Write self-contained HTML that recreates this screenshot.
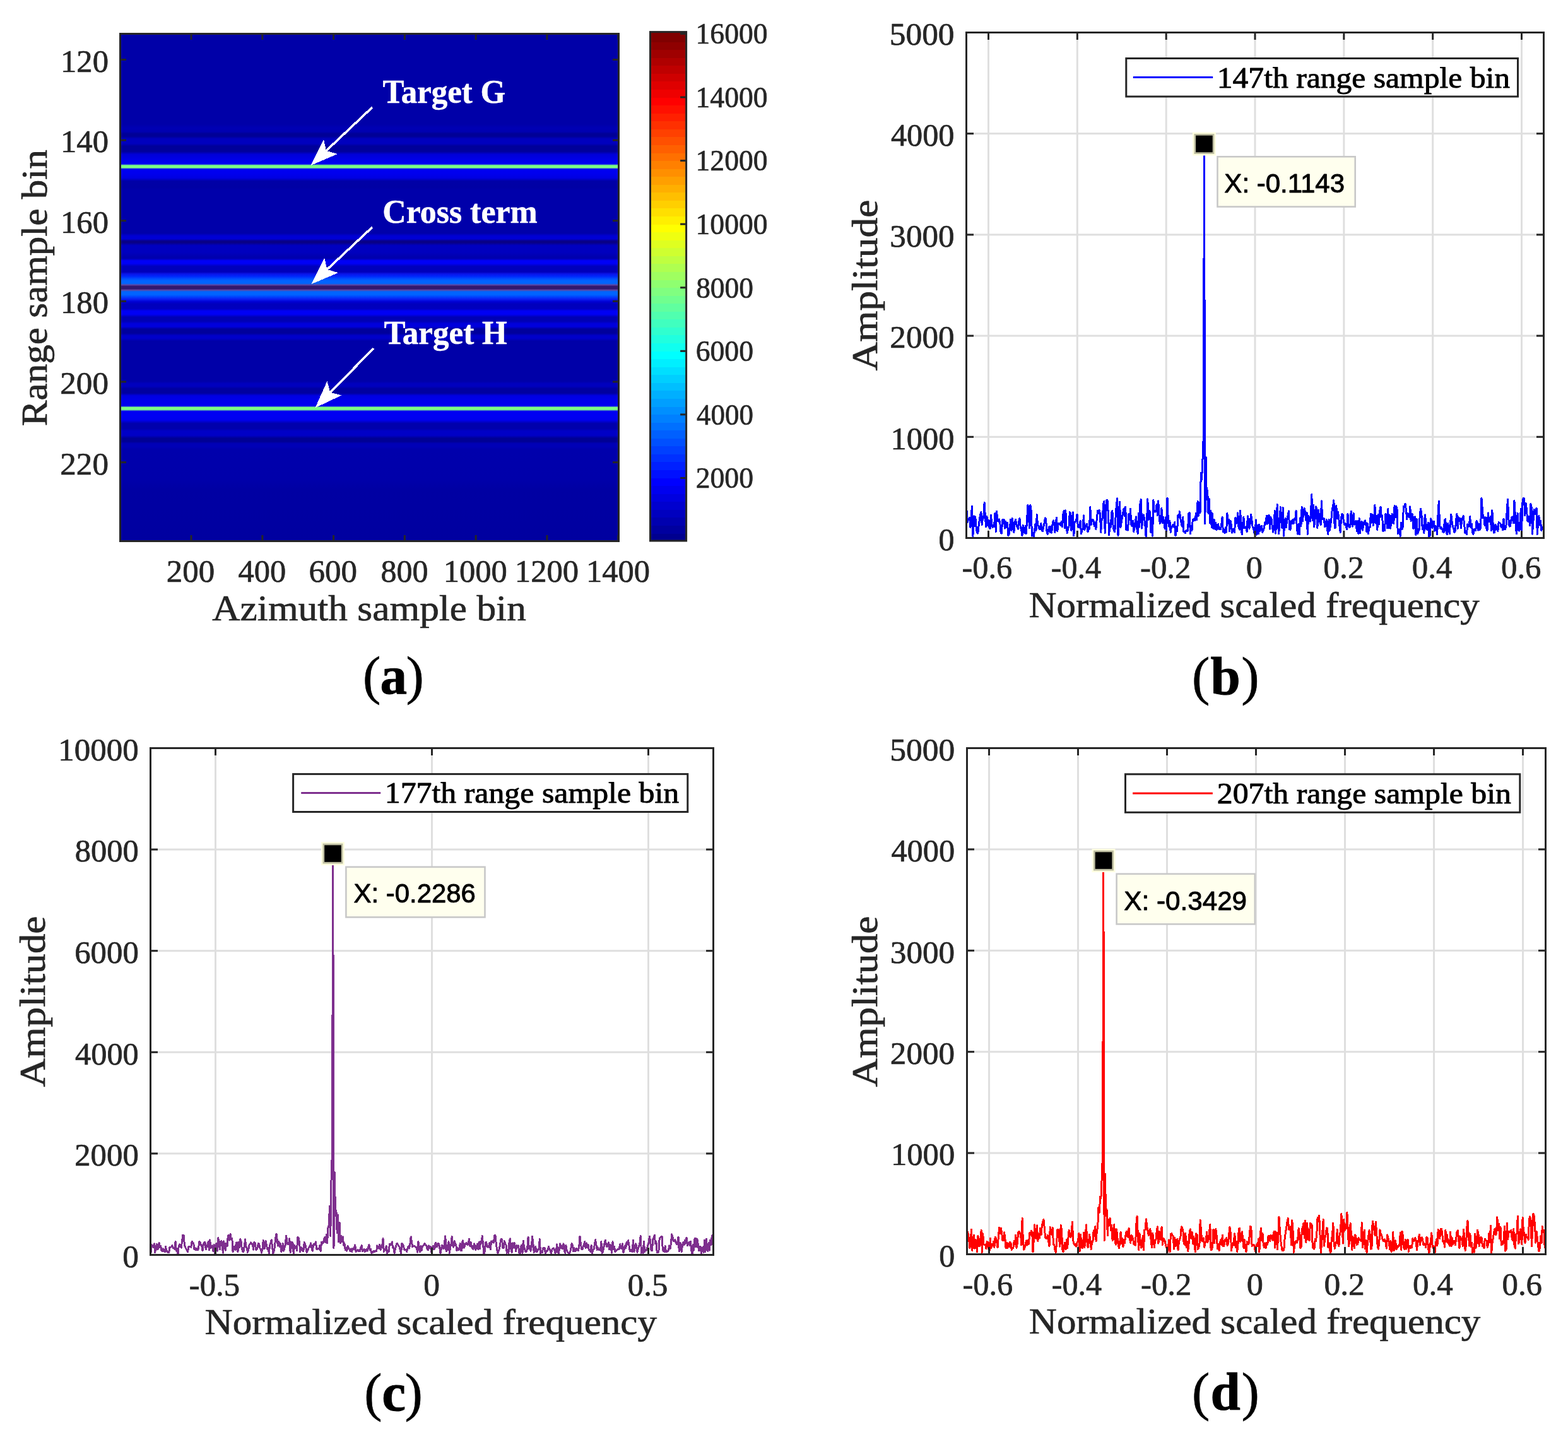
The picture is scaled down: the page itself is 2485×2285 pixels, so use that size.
<!DOCTYPE html>
<html><head><meta charset="utf-8"><title>Figure</title>
<style>html,body{margin:0;padding:0;background:#fff}svg{display:block}text{white-space:pre}</style></head>
<body><svg width="2485" height="2285" viewBox="0 0 2485 2285">
<defs><linearGradient id="hm" gradientUnits="userSpaceOnUse" x1="0" y1="53.5" x2="0" y2="857.5">
<stop offset="0.0000" stop-color="#0000a8"/>
<stop offset="0.1785" stop-color="#0000a8"/>
<stop offset="0.1859" stop-color="#0000b4"/>
<stop offset="0.1928" stop-color="#0000b0"/>
<stop offset="0.1971" stop-color="#000096"/>
<stop offset="0.2021" stop-color="#000096"/>
<stop offset="0.2071" stop-color="#0000be"/>
<stop offset="0.2164" stop-color="#0000be"/>
<stop offset="0.2214" stop-color="#00009a"/>
<stop offset="0.2320" stop-color="#00009a"/>
<stop offset="0.2376" stop-color="#0000d7"/>
<stop offset="0.2469" stop-color="#0000e6"/>
<stop offset="0.2561" stop-color="#0000f2"/>
<stop offset="0.2572" stop-color="#1e28e1"/>
<stop offset="0.2583" stop-color="#4b96b4"/>
<stop offset="0.2595" stop-color="#7cff82"/>
<stop offset="0.2639" stop-color="#7cff82"/>
<stop offset="0.2650" stop-color="#4b96b4"/>
<stop offset="0.2662" stop-color="#1e28e1"/>
<stop offset="0.2673" stop-color="#0000f2"/>
<stop offset="0.2755" stop-color="#0000ee"/>
<stop offset="0.2842" stop-color="#0000e2"/>
<stop offset="0.2904" stop-color="#0000a6"/>
<stop offset="0.3029" stop-color="#0000a4"/>
<stop offset="0.3078" stop-color="#0000aa"/>
<stop offset="0.3930" stop-color="#0000aa"/>
<stop offset="0.3986" stop-color="#0000d4"/>
<stop offset="0.4042" stop-color="#0000d4"/>
<stop offset="0.4086" stop-color="#080086"/>
<stop offset="0.4117" stop-color="#080086"/>
<stop offset="0.4173" stop-color="#0000c0"/>
<stop offset="0.4310" stop-color="#0000be"/>
<stop offset="0.4409" stop-color="#0000ac"/>
<stop offset="0.4434" stop-color="#0000b4"/>
<stop offset="0.4471" stop-color="#0000f6"/>
<stop offset="0.4527" stop-color="#0000f6"/>
<stop offset="0.4583" stop-color="#0000bc"/>
<stop offset="0.4695" stop-color="#0000ba"/>
<stop offset="0.4733" stop-color="#0a14e8"/>
<stop offset="0.4782" stop-color="#0028fc"/>
<stop offset="0.4832" stop-color="#0050ff"/>
<stop offset="0.4869" stop-color="#0064ff"/>
<stop offset="0.4919" stop-color="#0064ff"/>
<stop offset="0.4935" stop-color="#285ad2"/>
<stop offset="0.4951" stop-color="#6044a5"/>
<stop offset="0.4976" stop-color="#32186e"/>
<stop offset="0.5026" stop-color="#32186e"/>
<stop offset="0.5051" stop-color="#6044a5"/>
<stop offset="0.5068" stop-color="#285ad2"/>
<stop offset="0.5085" stop-color="#0064ff"/>
<stop offset="0.5143" stop-color="#0064ff"/>
<stop offset="0.5180" stop-color="#0046ff"/>
<stop offset="0.5230" stop-color="#0a1ef2"/>
<stop offset="0.5280" stop-color="#0000d4"/>
<stop offset="0.5330" stop-color="#0000bc"/>
<stop offset="0.5417" stop-color="#0000be"/>
<stop offset="0.5466" stop-color="#0000f4"/>
<stop offset="0.5529" stop-color="#0000f4"/>
<stop offset="0.5585" stop-color="#0000b4"/>
<stop offset="0.5665" stop-color="#0000b4"/>
<stop offset="0.5715" stop-color="#0000dc"/>
<stop offset="0.5771" stop-color="#0000dc"/>
<stop offset="0.5821" stop-color="#00009c"/>
<stop offset="0.5902" stop-color="#00009c"/>
<stop offset="0.5951" stop-color="#0000ca"/>
<stop offset="0.6001" stop-color="#0000ca"/>
<stop offset="0.6057" stop-color="#0000a8"/>
<stop offset="0.6847" stop-color="#0000a8"/>
<stop offset="0.6897" stop-color="#0000be"/>
<stop offset="0.6947" stop-color="#0000be"/>
<stop offset="0.6996" stop-color="#0000a0"/>
<stop offset="0.7083" stop-color="#0000a0"/>
<stop offset="0.7133" stop-color="#0000e2"/>
<stop offset="0.7233" stop-color="#0000ec"/>
<stop offset="0.7330" stop-color="#0000f0"/>
<stop offset="0.7341" stop-color="#1e28e1"/>
<stop offset="0.7352" stop-color="#4b96b4"/>
<stop offset="0.7363" stop-color="#7cff82"/>
<stop offset="0.7409" stop-color="#7cff82"/>
<stop offset="0.7420" stop-color="#4b96b4"/>
<stop offset="0.7432" stop-color="#1e28e1"/>
<stop offset="0.7444" stop-color="#0000f2"/>
<stop offset="0.7544" stop-color="#0000f2"/>
<stop offset="0.7618" stop-color="#0000ec"/>
<stop offset="0.7680" stop-color="#0000ac"/>
<stop offset="0.7780" stop-color="#0000ac"/>
<stop offset="0.7830" stop-color="#0000c6"/>
<stop offset="0.7917" stop-color="#0000c6"/>
<stop offset="0.7973" stop-color="#000094"/>
<stop offset="0.8035" stop-color="#000094"/>
<stop offset="0.8078" stop-color="#0000b6"/>
<stop offset="0.8141" stop-color="#0000b6"/>
<stop offset="0.8190" stop-color="#0000ac"/>
<stop offset="0.8787" stop-color="#0000aa"/>
<stop offset="0.8974" stop-color="#0000a3"/>
<stop offset="1.0000" stop-color="#0000a0"/>
</linearGradient>
<clipPath id="clipb"><rect x="1530" y="51.5" width="918" height="802.5"/></clipPath>
<clipPath id="clipc"><rect x="237" y="1185.5" width="895" height="804.5"/></clipPath>
<clipPath id="clipd"><rect x="1531" y="1185.5" width="920" height="803.5"/></clipPath></defs>
<rect width="2485" height="2285" fill="#fff"/>
<rect x="190.5" y="53.5" width="790.0" height="804.0" fill="url(#hm)"/>
<rect x="301.5" y="53.5" width="3" height="9.5" fill="#262626"/>
<rect x="301.5" y="848" width="3" height="9.5" fill="#262626"/>
<rect x="414.29" y="53.5" width="3" height="9.5" fill="#262626"/>
<rect x="414.29" y="848" width="3" height="9.5" fill="#262626"/>
<rect x="527.08" y="53.5" width="3" height="9.5" fill="#262626"/>
<rect x="527.08" y="848" width="3" height="9.5" fill="#262626"/>
<rect x="639.86" y="53.5" width="3" height="9.5" fill="#262626"/>
<rect x="639.86" y="848" width="3" height="9.5" fill="#262626"/>
<rect x="752.65" y="53.5" width="3" height="9.5" fill="#262626"/>
<rect x="752.65" y="848" width="3" height="9.5" fill="#262626"/>
<rect x="865.43" y="53.5" width="3" height="9.5" fill="#262626"/>
<rect x="865.43" y="848" width="3" height="9.5" fill="#262626"/>
<rect x="978.22" y="53.5" width="3" height="9.5" fill="#262626"/>
<rect x="978.22" y="848" width="3" height="9.5" fill="#262626"/>
<rect x="190.5" y="93" width="9.5" height="3" fill="#262626"/>
<rect x="971" y="93" width="9.5" height="3" fill="#262626"/>
<rect x="190.5" y="220.62" width="9.5" height="3" fill="#262626"/>
<rect x="971" y="220.62" width="9.5" height="3" fill="#262626"/>
<rect x="190.5" y="348.24" width="9.5" height="3" fill="#262626"/>
<rect x="971" y="348.24" width="9.5" height="3" fill="#262626"/>
<rect x="190.5" y="475.86" width="9.5" height="3" fill="#262626"/>
<rect x="971" y="475.86" width="9.5" height="3" fill="#262626"/>
<rect x="190.5" y="603.48" width="9.5" height="3" fill="#262626"/>
<rect x="971" y="603.48" width="9.5" height="3" fill="#262626"/>
<rect x="190.5" y="731.1" width="9.5" height="3" fill="#262626"/>
<rect x="971" y="731.1" width="9.5" height="3" fill="#262626"/>
<rect x="190.5" y="53.5" width="790" height="804" fill="none" stroke="#262626" stroke-width="3"/>
<text transform="translate(263.86,921.7) scale(0.9880,1)" font-family='"Liberation Serif", serif' font-size="51.6" fill="#262626" stroke="#262626" stroke-width="0.7" stroke-linejoin="round">200</text>
<text transform="translate(377.39,921.7) scale(0.9796,1)" font-family='"Liberation Serif", serif' font-size="51.6" fill="#262626" stroke="#262626" stroke-width="0.7" stroke-linejoin="round">400</text>
<text transform="translate(489.46,921.7) scale(0.9880,1)" font-family='"Liberation Serif", serif' font-size="51.6" fill="#262626" stroke="#262626" stroke-width="0.7" stroke-linejoin="round">600</text>
<text transform="translate(603.5,921.7) scale(0.9703,1)" font-family='"Liberation Serif", serif' font-size="51.6" fill="#262626" stroke="#262626" stroke-width="0.7" stroke-linejoin="round">800</text>
<text transform="translate(702.66,921.7) scale(0.9792,1)" font-family='"Liberation Serif", serif' font-size="51.6" fill="#262626" stroke="#262626" stroke-width="0.7" stroke-linejoin="round">1000</text>
<text transform="translate(815.84,921.7) scale(0.9823,1)" font-family='"Liberation Serif", serif' font-size="51.6" fill="#262626" stroke="#262626" stroke-width="0.7" stroke-linejoin="round">1200</text>
<text transform="translate(929.06,921.7) scale(0.9792,1)" font-family='"Liberation Serif", serif' font-size="51.6" fill="#262626" stroke="#262626" stroke-width="0.7" stroke-linejoin="round">1400</text>
<text transform="translate(95.94,113.5) scale(0.9829,1)" font-family='"Liberation Serif", serif' font-size="51.6" fill="#262626" stroke="#262626" stroke-width="0.7" stroke-linejoin="round">120</text>
<text transform="translate(95.94,241.12) scale(0.9829,1)" font-family='"Liberation Serif", serif' font-size="51.6" fill="#262626" stroke="#262626" stroke-width="0.7" stroke-linejoin="round">140</text>
<text transform="translate(95.94,368.74) scale(0.9829,1)" font-family='"Liberation Serif", serif' font-size="51.6" fill="#262626" stroke="#262626" stroke-width="0.7" stroke-linejoin="round">160</text>
<text transform="translate(95.94,496.36) scale(0.9829,1)" font-family='"Liberation Serif", serif' font-size="51.6" fill="#262626" stroke="#262626" stroke-width="0.7" stroke-linejoin="round">180</text>
<text transform="translate(95.25,623.98) scale(0.9920,1)" font-family='"Liberation Serif", serif' font-size="51.6" fill="#262626" stroke="#262626" stroke-width="0.7" stroke-linejoin="round">200</text>
<text transform="translate(95.25,751.6) scale(0.9920,1)" font-family='"Liberation Serif", serif' font-size="51.6" fill="#262626" stroke="#262626" stroke-width="0.7" stroke-linejoin="round">220</text>
<text transform="translate(336.3,983.1) scale(1.0860,1)" font-family='"Liberation Serif", serif' font-size="56.5" fill="#262626" stroke="#262626" stroke-width="0.7" stroke-linejoin="round">Azimuth sample bin</text>
<text transform="translate(73.8,675.22) rotate(-90) scale(1.0823,1)" font-family='"Liberation Serif", serif' font-size="56.5" fill="#262626" stroke="#262626" stroke-width="0.7" stroke-linejoin="round">Range sample bin</text>
<g shape-rendering="crispEdges"><line x1="590" y1="170" x2="517.03" y2="238.86" stroke="#fff" stroke-width="3.6"/>
<polygon points="492.3,262.2 512.96,220.71 517.03,238.86 534.92,243.98" fill="#fff"/></g>
<g shape-rendering="crispEdges"><line x1="590" y1="360" x2="518.34" y2="426.98" stroke="#fff" stroke-width="3.6"/>
<polygon points="493.5,450.2 514.35,408.81 518.34,426.98 536.2,432.18" fill="#fff"/></g>
<g shape-rendering="crispEdges"><line x1="592" y1="552" x2="523.32" y2="621.94" stroke="#fff" stroke-width="3.6"/>
<polygon points="499.5,646.2 518.56,603.95 523.32,621.94 541.39,626.37" fill="#fff"/></g>
<text transform="translate(606.39,162.8) scale(0.9705,1)" font-family='"Liberation Serif", serif' font-size="52.5" fill="#fff" font-weight="bold" stroke="#fff" stroke-width="0.5" stroke-linejoin="round">Target G</text>
<text transform="translate(606.22,352.8) scale(0.9888,1)" font-family='"Liberation Serif", serif' font-size="52.5" fill="#fff" font-weight="bold" stroke="#fff" stroke-width="0.5" stroke-linejoin="round">Cross term</text>
<text transform="translate(608.39,544.6) scale(0.9729,1)" font-family='"Liberation Serif", serif' font-size="52.5" fill="#fff" font-weight="bold" stroke="#fff" stroke-width="0.5" stroke-linejoin="round">Target H</text>
<g shape-rendering="crispEdges">
<rect x="1030.5" y="844.94" width="57.1" height="13.16" fill="#00008f"/>
<rect x="1030.5" y="832.38" width="57.1" height="13.16" fill="#00009f"/>
<rect x="1030.5" y="819.81" width="57.1" height="13.16" fill="#0000af"/>
<rect x="1030.5" y="807.25" width="57.1" height="13.16" fill="#0000bf"/>
<rect x="1030.5" y="794.69" width="57.1" height="13.16" fill="#0000cf"/>
<rect x="1030.5" y="782.12" width="57.1" height="13.16" fill="#0000df"/>
<rect x="1030.5" y="769.56" width="57.1" height="13.16" fill="#0000ef"/>
<rect x="1030.5" y="757" width="57.1" height="13.16" fill="#0000ff"/>
<rect x="1030.5" y="744.44" width="57.1" height="13.16" fill="#0010ff"/>
<rect x="1030.5" y="731.88" width="57.1" height="13.16" fill="#0020ff"/>
<rect x="1030.5" y="719.31" width="57.1" height="13.16" fill="#0030ff"/>
<rect x="1030.5" y="706.75" width="57.1" height="13.16" fill="#0040ff"/>
<rect x="1030.5" y="694.19" width="57.1" height="13.16" fill="#0050ff"/>
<rect x="1030.5" y="681.62" width="57.1" height="13.16" fill="#0060ff"/>
<rect x="1030.5" y="669.06" width="57.1" height="13.16" fill="#0070ff"/>
<rect x="1030.5" y="656.5" width="57.1" height="13.16" fill="#0080ff"/>
<rect x="1030.5" y="643.94" width="57.1" height="13.16" fill="#008fff"/>
<rect x="1030.5" y="631.38" width="57.1" height="13.16" fill="#009fff"/>
<rect x="1030.5" y="618.81" width="57.1" height="13.16" fill="#00afff"/>
<rect x="1030.5" y="606.25" width="57.1" height="13.16" fill="#00bfff"/>
<rect x="1030.5" y="593.69" width="57.1" height="13.16" fill="#00cfff"/>
<rect x="1030.5" y="581.12" width="57.1" height="13.16" fill="#00dfff"/>
<rect x="1030.5" y="568.56" width="57.1" height="13.16" fill="#00efff"/>
<rect x="1030.5" y="556" width="57.1" height="13.16" fill="#00ffff"/>
<rect x="1030.5" y="543.44" width="57.1" height="13.16" fill="#10ffef"/>
<rect x="1030.5" y="530.88" width="57.1" height="13.16" fill="#20ffdf"/>
<rect x="1030.5" y="518.31" width="57.1" height="13.16" fill="#30ffcf"/>
<rect x="1030.5" y="505.75" width="57.1" height="13.16" fill="#40ffbf"/>
<rect x="1030.5" y="493.19" width="57.1" height="13.16" fill="#50ffaf"/>
<rect x="1030.5" y="480.62" width="57.1" height="13.16" fill="#60ff9f"/>
<rect x="1030.5" y="468.06" width="57.1" height="13.16" fill="#70ff8f"/>
<rect x="1030.5" y="455.5" width="57.1" height="13.16" fill="#80ff80"/>
<rect x="1030.5" y="442.94" width="57.1" height="13.16" fill="#8fff70"/>
<rect x="1030.5" y="430.38" width="57.1" height="13.16" fill="#9fff60"/>
<rect x="1030.5" y="417.81" width="57.1" height="13.16" fill="#afff50"/>
<rect x="1030.5" y="405.25" width="57.1" height="13.16" fill="#bfff40"/>
<rect x="1030.5" y="392.69" width="57.1" height="13.16" fill="#cfff30"/>
<rect x="1030.5" y="380.12" width="57.1" height="13.16" fill="#dfff20"/>
<rect x="1030.5" y="367.56" width="57.1" height="13.16" fill="#efff10"/>
<rect x="1030.5" y="355" width="57.1" height="13.16" fill="#ffff00"/>
<rect x="1030.5" y="342.44" width="57.1" height="13.16" fill="#ffef00"/>
<rect x="1030.5" y="329.88" width="57.1" height="13.16" fill="#ffdf00"/>
<rect x="1030.5" y="317.31" width="57.1" height="13.16" fill="#ffcf00"/>
<rect x="1030.5" y="304.75" width="57.1" height="13.16" fill="#ffbf00"/>
<rect x="1030.5" y="292.19" width="57.1" height="13.16" fill="#ffaf00"/>
<rect x="1030.5" y="279.62" width="57.1" height="13.16" fill="#ff9f00"/>
<rect x="1030.5" y="267.06" width="57.1" height="13.16" fill="#ff8f00"/>
<rect x="1030.5" y="254.5" width="57.1" height="13.16" fill="#ff8000"/>
<rect x="1030.5" y="241.94" width="57.1" height="13.16" fill="#ff7000"/>
<rect x="1030.5" y="229.38" width="57.1" height="13.16" fill="#ff6000"/>
<rect x="1030.5" y="216.81" width="57.1" height="13.16" fill="#ff5000"/>
<rect x="1030.5" y="204.25" width="57.1" height="13.16" fill="#ff4000"/>
<rect x="1030.5" y="191.69" width="57.1" height="13.16" fill="#ff3000"/>
<rect x="1030.5" y="179.12" width="57.1" height="13.16" fill="#ff2000"/>
<rect x="1030.5" y="166.56" width="57.1" height="13.16" fill="#ff1000"/>
<rect x="1030.5" y="154" width="57.1" height="13.16" fill="#ff0000"/>
<rect x="1030.5" y="141.44" width="57.1" height="13.16" fill="#ef0000"/>
<rect x="1030.5" y="128.88" width="57.1" height="13.16" fill="#df0000"/>
<rect x="1030.5" y="116.31" width="57.1" height="13.16" fill="#cf0000"/>
<rect x="1030.5" y="103.75" width="57.1" height="13.16" fill="#bf0000"/>
<rect x="1030.5" y="91.19" width="57.1" height="13.16" fill="#af0000"/>
<rect x="1030.5" y="78.62" width="57.1" height="13.16" fill="#9f0000"/>
<rect x="1030.5" y="66.06" width="57.1" height="13.16" fill="#8f0000"/>
<rect x="1030.5" y="50.6" width="57.1" height="16.06" fill="#800000"/>
</g>
<rect x="1078.1" y="755.9" width="9.5" height="3" fill="#262626"/>
<text transform="translate(1102.67,773.2) scale(0.9671,1)" font-family='"Liberation Serif", serif' font-size="47.2" fill="#262626" stroke="#262626" stroke-width="0.7" stroke-linejoin="round">2000</text>
<rect x="1078.1" y="655.34" width="9.5" height="3" fill="#262626"/>
<text transform="translate(1104.05,672.64) scale(0.9523,1)" font-family='"Liberation Serif", serif' font-size="47.2" fill="#262626" stroke="#262626" stroke-width="0.7" stroke-linejoin="round">4000</text>
<rect x="1078.1" y="554.78" width="9.5" height="3" fill="#262626"/>
<text transform="translate(1102.67,572.08) scale(0.9671,1)" font-family='"Liberation Serif", serif' font-size="47.2" fill="#262626" stroke="#262626" stroke-width="0.7" stroke-linejoin="round">6000</text>
<rect x="1078.1" y="454.22" width="9.5" height="3" fill="#262626"/>
<text transform="translate(1103.14,471.52) scale(0.9621,1)" font-family='"Liberation Serif", serif' font-size="47.2" fill="#262626" stroke="#262626" stroke-width="0.7" stroke-linejoin="round">8000</text>
<rect x="1078.1" y="353.66" width="9.5" height="3" fill="#262626"/>
<text transform="translate(1102.55,370.96) scale(0.9662,1)" font-family='"Liberation Serif", serif' font-size="47.2" fill="#262626" stroke="#262626" stroke-width="0.7" stroke-linejoin="round">10000</text>
<rect x="1078.1" y="253.1" width="9.5" height="3" fill="#262626"/>
<text transform="translate(1102.55,270.4) scale(0.9662,1)" font-family='"Liberation Serif", serif' font-size="47.2" fill="#262626" stroke="#262626" stroke-width="0.7" stroke-linejoin="round">12000</text>
<rect x="1078.1" y="152.54" width="9.5" height="3" fill="#262626"/>
<text transform="translate(1102.55,169.84) scale(0.9662,1)" font-family='"Liberation Serif", serif' font-size="47.2" fill="#262626" stroke="#262626" stroke-width="0.7" stroke-linejoin="round">14000</text>
<rect x="1078.1" y="51.98" width="9.5" height="3" fill="#262626"/>
<text transform="translate(1102.55,69.28) scale(0.9662,1)" font-family='"Liberation Serif", serif' font-size="47.2" fill="#262626" stroke="#262626" stroke-width="0.7" stroke-linejoin="round">16000</text>
<rect x="1030.5" y="50.6" width="57.1" height="806.4" fill="none" stroke="#262626" stroke-width="3"/>
<rect x="1531.5" y="51.5" width="915" height="801" fill="#fff"/>
<rect x="1565" y="51.5" width="3" height="801" fill="#dfdfdf"/>
<rect x="1705.83" y="51.5" width="3" height="801" fill="#dfdfdf"/>
<rect x="1846.67" y="51.5" width="3" height="801" fill="#dfdfdf"/>
<rect x="1987.5" y="51.5" width="3" height="801" fill="#dfdfdf"/>
<rect x="2128.34" y="51.5" width="3" height="801" fill="#dfdfdf"/>
<rect x="2269.17" y="51.5" width="3" height="801" fill="#dfdfdf"/>
<rect x="2410" y="51.5" width="3" height="801" fill="#dfdfdf"/>
<rect x="1531.5" y="690.8" width="915" height="3" fill="#dfdfdf"/>
<rect x="1531.5" y="530.6" width="915" height="3" fill="#dfdfdf"/>
<rect x="1531.5" y="370.4" width="915" height="3" fill="#dfdfdf"/>
<rect x="1531.5" y="210.2" width="915" height="3" fill="#dfdfdf"/>
<path d="M1530.2,785.8 L1531.5,797.2 L1532.8,827.9 L1534.1,824.7 L1535.4,823.2 L1536.7,820.1 L1538.0,835.6 L1539.3,815.5 L1540.6,802.1 L1541.9,849.4 L1543.2,817.9 L1544.5,833.2 L1545.8,818.8 L1547.1,835.8 L1548.4,844.1 L1549.7,845.2 L1551.0,834.4 L1552.3,823.5 L1553.6,815.0 L1554.9,811.7 L1556.2,831.4 L1557.5,821.4 L1558.8,821.1 L1560.1,796.2 L1561.4,819.0 L1562.7,835.0 L1564.0,818.6 L1565.3,832.8 L1566.6,824.3 L1567.9,835.9 L1569.2,837.4 L1570.5,816.2 L1571.8,830.0 L1573.1,835.5 L1574.4,834.6 L1575.7,831.5 L1577.0,812.9 L1578.3,842.3 L1579.6,810.4 L1580.9,825.3 L1582.2,826.0 L1583.5,822.9 L1584.8,828.3 L1586.1,844.2 L1587.4,845.1 L1588.7,823.6 L1590.0,825.3 L1591.3,823.6 L1592.6,837.2 L1593.9,826.1 L1595.2,835.7 L1596.5,828.6 L1597.8,848.5 L1599.1,846.4 L1600.4,836.0 L1601.7,823.3 L1603.0,840.5 L1604.3,821.7 L1605.6,832.1 L1606.9,843.3 L1608.2,829.7 L1609.5,823.1 L1610.8,831.1 L1612.1,834.7 L1613.4,838.2 L1614.7,826.0 L1616.0,821.5 L1617.3,836.7 L1618.6,838.1 L1619.9,849.1 L1621.2,832.2 L1622.5,842.1 L1623.8,844.6 L1625.1,833.8 L1626.4,845.3 L1627.7,821.3 L1629.0,800.5 L1630.3,817.3 L1631.6,836.9 L1632.9,800.7 L1634.2,809.4 L1635.5,849.1 L1636.8,844.6 L1638.1,850.2 L1639.4,842.9 L1640.7,830.9 L1642.0,840.8 L1643.3,815.7 L1644.6,832.7 L1645.9,833.1 L1647.2,838.6 L1648.5,838.6 L1649.8,829.3 L1651.1,840.5 L1652.4,841.7 L1653.7,835.1 L1655.0,829.6 L1656.3,820.8 L1657.6,822.8 L1658.9,841.1 L1660.2,846.3 L1661.5,841.2 L1662.8,834.2 L1664.1,843.5 L1665.4,834.2 L1666.7,844.1 L1668.0,831.4 L1669.3,825.0 L1670.6,828.3 L1671.9,843.3 L1673.2,826.7 L1674.5,820.3 L1675.8,841.3 L1677.1,831.5 L1678.4,829.1 L1679.7,830.9 L1681.0,832.6 L1682.3,826.2 L1683.6,835.0 L1684.9,815.1 L1686.2,809.7 L1687.5,836.8 L1688.8,808.8 L1690.1,835.7 L1691.4,844.4 L1692.7,837.9 L1694.0,834.1 L1695.3,811.6 L1696.6,813.0 L1697.9,841.1 L1699.2,824.1 L1700.5,811.9 L1701.8,848.9 L1703.1,827.5 L1704.4,826.4 L1705.7,824.7 L1707.0,815.1 L1708.3,834.8 L1709.6,835.6 L1710.9,831.8 L1712.2,825.7 L1713.5,846.0 L1714.8,840.1 L1716.1,837.2 L1717.4,816.9 L1718.7,839.6 L1720.0,835.3 L1721.3,833.0 L1722.6,830.1 L1723.9,842.9 L1725.2,839.6 L1726.5,838.0 L1727.8,803.4 L1729.1,831.3 L1730.4,825.0 L1731.7,823.1 L1733.0,825.0 L1734.3,833.9 L1735.6,828.5 L1736.9,838.3 L1738.2,823.3 L1739.5,809.6 L1740.8,813.5 L1742.1,808.7 L1743.4,814.1 L1744.7,843.5 L1746.0,824.5 L1747.3,820.4 L1748.6,798.9 L1749.9,794.1 L1751.2,844.4 L1752.5,822.3 L1753.8,792.4 L1755.1,792.9 L1756.4,813.9 L1757.7,848.0 L1759.0,828.9 L1760.3,835.4 L1761.6,812.7 L1762.9,809.5 L1764.2,835.3 L1765.5,841.1 L1766.8,842.9 L1768.1,818.4 L1769.4,799.1 L1770.7,789.9 L1772.0,848.4 L1773.3,810.8 L1774.6,795.4 L1775.9,835.4 L1777.2,828.0 L1778.5,819.0 L1779.8,812.7 L1781.1,805.9 L1782.4,817.7 L1783.7,803.3 L1785.0,839.7 L1786.3,832.0 L1787.6,840.1 L1788.9,814.1 L1790.2,823.9 L1791.5,806.4 L1792.8,831.1 L1794.1,833.8 L1795.4,825.3 L1796.7,842.5 L1798.0,836.5 L1799.3,825.9 L1800.6,818.8 L1801.9,838.0 L1803.2,845.3 L1804.5,813.6 L1805.8,835.2 L1807.1,795.7 L1808.4,791.6 L1809.7,837.1 L1811.0,819.6 L1812.3,815.9 L1813.6,821.7 L1814.9,832.1 L1816.2,851.6 L1817.5,827.2 L1818.8,790.9 L1820.1,823.9 L1821.4,809.2 L1822.7,811.4 L1824.0,843.5 L1825.3,820.2 L1826.6,849.1 L1827.9,792.7 L1829.2,810.2 L1830.5,811.2 L1831.8,810.8 L1833.1,799.3 L1834.4,816.4 L1835.7,793.9 L1837.0,815.6 L1838.3,829.5 L1839.6,826.6 L1840.9,805.1 L1842.2,828.4 L1843.5,819.3 L1844.8,828.0 L1846.1,838.1 L1847.4,820.0 L1848.7,841.7 L1850.0,789.0 L1851.3,824.3 L1852.6,834.1 L1853.9,825.4 L1855.2,843.3 L1856.5,834.2 L1857.8,834.8 L1859.1,831.0 L1860.4,835.0 L1861.7,827.5 L1863.0,848.6 L1864.3,838.9 L1865.6,841.6 L1866.9,816.2 L1868.2,819.9 L1869.5,810.7 L1870.8,821.6 L1872.1,828.1 L1873.4,834.2 L1874.7,819.7 L1876.0,842.6 L1877.3,842.9 L1878.6,844.5 L1879.9,840.4 L1881.2,841.9 L1882.5,841.1 L1883.8,813.4 L1885.1,812.6 L1886.4,845.6 L1887.7,833.7 L1889.0,840.2 L1890.3,823.0 L1891.6,824.4 L1892.9,822.0 L1894.2,824.7 L1895.5,813.2 L1896.8,823.4 L1898.1,794.3 L1899.4,817.4 L1900.7,796.9 L1902.0,812.8 L1903.3,749.7 L1904.6,759.9 L1905.9,730.7 L1907.2,694.2 L1908.5,243.7 L1909.8,829.9 L1911.1,724.7 L1912.4,791.6 L1913.7,777.0 L1915.0,813.4 L1916.3,790.8 L1917.6,828.9 L1918.9,809.1 L1920.2,835.9 L1921.5,813.8 L1922.8,837.3 L1924.1,823.6 L1925.4,838.1 L1926.7,828.5 L1928.0,839.7 L1929.3,831.6 L1930.6,830.6 L1931.9,838.7 L1933.2,836.0 L1934.5,838.5 L1935.8,830.6 L1937.1,819.4 L1938.4,842.5 L1939.7,840.9 L1941.0,844.6 L1942.3,836.6 L1943.6,843.2 L1944.9,813.6 L1946.2,826.3 L1947.5,823.1 L1948.8,841.9 L1950.1,825.5 L1951.4,832.7 L1952.7,844.1 L1954.0,838.5 L1955.3,842.0 L1956.6,843.5 L1957.9,820.7 L1959.2,829.7 L1960.5,825.0 L1961.8,812.9 L1963.1,835.9 L1964.4,839.0 L1965.7,809.3 L1967.0,837.5 L1968.3,846.8 L1969.6,830.8 L1970.9,819.7 L1972.2,836.8 L1973.5,835.9 L1974.8,834.8 L1976.1,842.7 L1977.4,817.8 L1978.7,824.5 L1980.0,837.3 L1981.3,828.6 L1982.6,815.4 L1983.9,824.2 L1985.2,835.8 L1986.5,836.5 L1987.8,844.0 L1989.1,846.8 L1990.4,823.9 L1991.7,847.1 L1993.0,832.3 L1994.3,845.9 L1995.6,831.5 L1996.9,841.6 L1998.2,834.2 L1999.5,833.6 L2000.8,843.3 L2002.1,840.6 L2003.4,837.0 L2004.7,827.7 L2006.0,830.8 L2007.3,817.1 L2008.6,830.3 L2009.9,818.4 L2011.2,816.2 L2012.5,838.2 L2013.8,819.8 L2015.1,822.6 L2016.4,835.6 L2017.7,843.1 L2019.0,835.2 L2020.3,809.4 L2021.6,845.2 L2022.9,828.6 L2024.2,799.7 L2025.5,831.9 L2026.8,845.9 L2028.1,821.8 L2029.4,803.7 L2030.7,826.9 L2032.0,836.3 L2033.3,804.4 L2034.6,849.1 L2035.9,823.9 L2037.2,821.8 L2038.5,835.7 L2039.8,821.7 L2041.1,816.8 L2042.4,810.0 L2043.7,838.7 L2045.0,839.3 L2046.3,825.9 L2047.6,829.9 L2048.9,823.7 L2050.2,829.7 L2051.5,822.4 L2052.8,822.0 L2054.1,809.3 L2055.4,838.7 L2056.7,846.2 L2058.0,830.5 L2059.3,846.9 L2060.6,821.0 L2061.9,833.5 L2063.2,803.2 L2064.5,825.6 L2065.8,810.9 L2067.1,805.7 L2068.4,810.7 L2069.7,824.4 L2071.0,812.0 L2072.3,846.6 L2073.6,817.1 L2074.9,823.7 L2076.2,826.1 L2077.5,812.6 L2078.8,783.6 L2080.1,824.4 L2081.4,800.1 L2082.7,834.8 L2084.0,823.1 L2085.3,802.8 L2086.6,805.4 L2087.9,836.5 L2089.2,808.0 L2090.5,826.4 L2091.8,814.2 L2093.1,831.7 L2094.4,793.8 L2095.7,822.4 L2097.0,822.4 L2098.3,821.7 L2099.6,834.8 L2100.9,832.9 L2102.2,823.8 L2103.5,838.4 L2104.8,846.4 L2106.1,823.1 L2107.4,840.3 L2108.7,830.7 L2110.0,821.5 L2111.3,807.2 L2112.6,802.6 L2113.9,792.9 L2115.2,836.6 L2116.5,836.4 L2117.8,801.4 L2119.1,821.5 L2120.4,811.1 L2121.7,820.5 L2123.0,834.2 L2124.3,843.6 L2125.6,819.3 L2126.9,814.3 L2128.2,815.8 L2129.5,827.6 L2130.8,831.7 L2132.1,829.3 L2133.4,834.1 L2134.7,838.8 L2136.0,814.4 L2137.3,834.1 L2138.6,835.7 L2139.9,834.4 L2141.2,810.0 L2142.5,826.2 L2143.8,834.1 L2145.1,813.3 L2146.4,831.2 L2147.7,827.4 L2149.0,825.9 L2150.3,841.8 L2151.6,825.8 L2152.9,845.8 L2154.2,821.1 L2155.5,844.5 L2156.8,829.4 L2158.1,826.0 L2159.4,840.2 L2160.7,833.7 L2162.0,827.0 L2163.3,825.0 L2164.6,828.5 L2165.9,842.3 L2167.2,829.5 L2168.5,845.6 L2169.8,835.5 L2171.1,835.5 L2172.4,814.3 L2173.7,828.2 L2175.0,815.1 L2176.3,832.3 L2177.6,826.5 L2178.9,800.1 L2180.2,829.2 L2181.5,817.2 L2182.8,839.4 L2184.1,814.9 L2185.4,830.9 L2186.7,809.9 L2188.0,803.0 L2189.3,818.5 L2190.6,817.4 L2191.9,841.4 L2193.2,833.1 L2194.5,840.7 L2195.8,814.6 L2197.1,815.7 L2198.4,836.5 L2199.7,806.6 L2201.0,836.2 L2202.3,816.8 L2203.6,837.3 L2204.9,827.5 L2206.2,814.4 L2207.5,828.9 L2208.8,829.2 L2210.1,801.1 L2211.4,819.5 L2212.7,802.1 L2214.0,806.6 L2215.3,845.4 L2216.6,839.0 L2217.9,840.0 L2219.2,849.6 L2220.5,828.3 L2221.8,838.9 L2223.1,835.3 L2224.4,802.6 L2225.7,801.8 L2227.0,798.5 L2228.3,806.3 L2229.6,822.7 L2230.9,813.0 L2232.2,816.9 L2233.5,819.8 L2234.8,802.9 L2236.1,825.6 L2237.4,814.8 L2238.7,814.8 L2240.0,837.9 L2241.3,819.2 L2242.6,819.0 L2243.9,847.7 L2245.2,822.7 L2246.5,845.8 L2247.8,842.0 L2249.1,839.6 L2250.4,813.1 L2251.7,806.3 L2253.0,817.3 L2254.3,838.6 L2255.6,833.0 L2256.9,844.9 L2258.2,815.9 L2259.5,824.6 L2260.8,838.1 L2262.1,840.0 L2263.4,828.5 L2264.7,851.5 L2266.0,849.2 L2267.3,821.8 L2268.6,824.3 L2269.9,836.4 L2271.2,826.7 L2272.5,826.2 L2273.8,841.1 L2275.1,833.2 L2276.4,836.8 L2277.7,846.9 L2279.0,816.6 L2280.3,794.0 L2281.6,833.1 L2282.9,837.2 L2284.2,835.9 L2285.5,838.3 L2286.8,843.0 L2288.1,843.2 L2289.4,825.0 L2290.7,822.4 L2292.0,841.8 L2293.3,846.9 L2294.6,829.7 L2295.9,834.3 L2297.2,846.0 L2298.5,830.6 L2299.8,815.0 L2301.1,826.6 L2302.4,834.1 L2303.7,837.8 L2305.0,843.5 L2306.3,841.0 L2307.6,824.7 L2308.9,814.4 L2310.2,837.4 L2311.5,819.9 L2312.8,825.8 L2314.1,821.2 L2315.4,836.9 L2316.7,824.3 L2318.0,820.6 L2319.3,817.5 L2320.6,830.8 L2321.9,844.6 L2323.2,843.2 L2324.5,846.7 L2325.8,830.9 L2327.1,834.1 L2328.4,832.1 L2329.7,818.6 L2331.0,835.5 L2332.3,830.0 L2333.6,843.6 L2334.9,846.3 L2336.2,839.6 L2337.5,838.6 L2338.8,840.9 L2340.1,825.0 L2341.4,828.7 L2342.7,840.1 L2344.0,830.8 L2345.3,839.4 L2346.6,836.9 L2347.9,789.0 L2349.2,805.9 L2350.5,820.7 L2351.8,819.5 L2353.1,832.6 L2354.4,820.0 L2355.7,836.7 L2357.0,840.6 L2358.3,812.8 L2359.6,826.4 L2360.9,821.8 L2362.2,818.6 L2363.5,840.8 L2364.8,808.8 L2366.1,829.1 L2367.4,844.1 L2368.7,843.6 L2370.0,831.2 L2371.3,838.6 L2372.6,834.5 L2373.9,841.5 L2375.2,827.4 L2376.5,828.9 L2377.8,829.1 L2379.1,835.5 L2380.4,831.8 L2381.7,840.0 L2383.0,821.9 L2384.3,838.4 L2385.6,838.5 L2386.9,834.1 L2388.2,809.3 L2389.5,791.3 L2390.8,821.6 L2392.1,834.1 L2393.4,833.9 L2394.7,824.7 L2396.0,819.0 L2397.3,822.7 L2398.6,828.6 L2399.9,792.9 L2401.2,814.4 L2402.5,839.8 L2403.8,845.9 L2405.1,813.6 L2406.4,832.6 L2407.7,841.1 L2409.0,833.9 L2410.3,806.0 L2411.6,839.6 L2412.9,796.4 L2414.2,789.1 L2415.5,790.0 L2416.8,816.9 L2418.1,797.1 L2419.4,806.8 L2420.7,824.8 L2422.0,826.7 L2423.3,818.7 L2424.6,832.7 L2425.9,798.2 L2427.2,804.1 L2428.5,846.1 L2429.8,828.9 L2431.1,807.2 L2432.4,814.9 L2433.7,814.2 L2435.0,804.9 L2436.3,846.4 L2437.6,829.2 L2438.9,817.7 L2440.2,832.1 L2441.5,825.6 L2442.8,840.4 L2444.1,835.0 L2445.4,836.4 L2446.7,836.7 L2448.0,843.8" fill="none" stroke="#0000ff" stroke-width="3" stroke-linejoin="round" shape-rendering="crispEdges" clip-path="url(#clipb)"/>
<rect x="1565" y="51.5" width="3" height="11.5" fill="#262626"/>
<rect x="1565" y="841" width="3" height="11.5" fill="#262626"/>
<rect x="1705.83" y="51.5" width="3" height="11.5" fill="#262626"/>
<rect x="1705.83" y="841" width="3" height="11.5" fill="#262626"/>
<rect x="1846.67" y="51.5" width="3" height="11.5" fill="#262626"/>
<rect x="1846.67" y="841" width="3" height="11.5" fill="#262626"/>
<rect x="1987.5" y="51.5" width="3" height="11.5" fill="#262626"/>
<rect x="1987.5" y="841" width="3" height="11.5" fill="#262626"/>
<rect x="2128.34" y="51.5" width="3" height="11.5" fill="#262626"/>
<rect x="2128.34" y="841" width="3" height="11.5" fill="#262626"/>
<rect x="2269.17" y="51.5" width="3" height="11.5" fill="#262626"/>
<rect x="2269.17" y="841" width="3" height="11.5" fill="#262626"/>
<rect x="2410" y="51.5" width="3" height="11.5" fill="#262626"/>
<rect x="2410" y="841" width="3" height="11.5" fill="#262626"/>
<rect x="1531.5" y="690.8" width="11.5" height="3" fill="#262626"/>
<rect x="2435" y="690.8" width="11.5" height="3" fill="#262626"/>
<rect x="1531.5" y="530.6" width="11.5" height="3" fill="#262626"/>
<rect x="2435" y="530.6" width="11.5" height="3" fill="#262626"/>
<rect x="1531.5" y="370.4" width="11.5" height="3" fill="#262626"/>
<rect x="2435" y="370.4" width="11.5" height="3" fill="#262626"/>
<rect x="1531.5" y="210.2" width="11.5" height="3" fill="#262626"/>
<rect x="2435" y="210.2" width="11.5" height="3" fill="#262626"/>
<rect x="1531.5" y="51.5" width="915" height="801" fill="none" stroke="#262626" stroke-width="3"/>
<rect x="1784.8" y="92.5" width="620.7" height="60.5" fill="#fff" stroke="#262626" stroke-width="3"/>
<rect x="1795.8" y="121" width="126.4" height="3" fill="#0000ff"/>
<text transform="translate(1928.73,138.8) scale(1.0883,1)" font-family='"Liberation Serif", serif' font-size="45.6" fill="#000" stroke="#000" stroke-width="0.9" stroke-linejoin="round">147th range sample bin</text>
<rect x="1889.9" y="209.5" width="37" height="37" fill="#ffffe0"/>
<rect x="1892.4" y="212" width="32" height="32" fill="#bebea2"/>
<rect x="1895.1" y="214.7" width="26.6" height="26.6" fill="#000"/>
<rect x="1929.5" y="248.3" width="218.2" height="79.3" fill="#ffffee" stroke="#c8c8c8" stroke-width="2.6"/>
<text transform="translate(1940.36,305) scale(1.0004,1)" font-family='"Liberation Sans", sans-serif' font-size="42" fill="#000" stroke="#000" stroke-width="0.9" stroke-linejoin="round">X: -0.1143</text>
<text transform="translate(1524.59,916.4) scale(0.9747,1)" font-family='"Liberation Serif", serif' font-size="51.6" fill="#262626" stroke="#262626" stroke-width="0.7" stroke-linejoin="round">-0.6</text>
<text transform="translate(1665.7,916.4) scale(0.9709,1)" font-family='"Liberation Serif", serif' font-size="51.6" fill="#262626" stroke="#262626" stroke-width="0.7" stroke-linejoin="round">-0.4</text>
<text transform="translate(1806.97,916.4) scale(0.9864,1)" font-family='"Liberation Serif", serif' font-size="51.6" fill="#262626" stroke="#262626" stroke-width="0.7" stroke-linejoin="round">-0.2</text>
<text transform="translate(1974.83,916.4) scale(1.0130,1)" font-family='"Liberation Serif", serif' font-size="51.6" fill="#262626" stroke="#262626" stroke-width="0.7" stroke-linejoin="round">0</text>
<text transform="translate(2097.36,916.4) scale(0.9972,1)" font-family='"Liberation Serif", serif' font-size="51.6" fill="#262626" stroke="#262626" stroke-width="0.7" stroke-linejoin="round">0.2</text>
<text transform="translate(2237.67,916.4) scale(0.9882,1)" font-family='"Liberation Serif", serif' font-size="51.6" fill="#262626" stroke="#262626" stroke-width="0.7" stroke-linejoin="round">0.4</text>
<text transform="translate(2378.97,916.4) scale(0.9851,1)" font-family='"Liberation Serif", serif' font-size="51.6" fill="#262626" stroke="#262626" stroke-width="0.7" stroke-linejoin="round">0.6</text>
<text transform="translate(1409.83,70.7) scale(0.9952,1)" font-family='"Liberation Serif", serif' font-size="51.6" fill="#262626" stroke="#262626" stroke-width="0.7" stroke-linejoin="round">5000</text>
<text transform="translate(1411.9,230.9) scale(0.9749,1)" font-family='"Liberation Serif", serif' font-size="51.6" fill="#262626" stroke="#262626" stroke-width="0.7" stroke-linejoin="round">4000</text>
<text transform="translate(1410.36,391.1) scale(0.9901,1)" font-family='"Liberation Serif", serif' font-size="51.6" fill="#262626" stroke="#262626" stroke-width="0.7" stroke-linejoin="round">3000</text>
<text transform="translate(1410.36,551.3) scale(0.9901,1)" font-family='"Liberation Serif", serif' font-size="51.6" fill="#262626" stroke="#262626" stroke-width="0.7" stroke-linejoin="round">2000</text>
<text transform="translate(1411.46,711.5) scale(0.9792,1)" font-family='"Liberation Serif", serif' font-size="51.6" fill="#262626" stroke="#262626" stroke-width="0.7" stroke-linejoin="round">1000</text>
<text transform="translate(1487.5,871.7) scale(0.9690,1)" font-family='"Liberation Serif", serif' font-size="51.6" fill="#262626" stroke="#262626" stroke-width="0.7" stroke-linejoin="round">0</text>
<text transform="translate(1389.7,587.6) rotate(-90) scale(1.1211,1)" font-family='"Liberation Serif", serif' font-size="56.5" fill="#262626" stroke="#262626" stroke-width="0.7" stroke-linejoin="round">Amplitude</text>
<text transform="translate(1630.58,978.1) scale(1.0792,1)" font-family='"Liberation Serif", serif' font-size="56.5" fill="#262626" stroke="#262626" stroke-width="0.7" stroke-linejoin="round">Normalized scaled frequency</text>
<rect x="238.5" y="1185.5" width="892" height="803" fill="#fff"/>
<rect x="340" y="1185.5" width="3" height="803" fill="#dfdfdf"/>
<rect x="683" y="1185.5" width="3" height="803" fill="#dfdfdf"/>
<rect x="1026" y="1185.5" width="3" height="803" fill="#dfdfdf"/>
<rect x="238.5" y="1826.4" width="892" height="3" fill="#dfdfdf"/>
<rect x="238.5" y="1665.8" width="892" height="3" fill="#dfdfdf"/>
<rect x="238.5" y="1505.2" width="892" height="3" fill="#dfdfdf"/>
<rect x="238.5" y="1344.6" width="892" height="3" fill="#dfdfdf"/>
<path d="M237.8,1981.2 L239.1,1984.7 L240.4,1972.9 L241.7,1973.5 L243.0,1976.4 L244.3,1970.9 L245.6,1984.4 L246.9,1980.3 L248.2,1971.7 L249.5,1979.8 L250.8,1979.2 L252.1,1969.8 L253.4,1976.5 L254.7,1974.6 L256.0,1981.8 L257.3,1982.8 L258.6,1978.8 L259.9,1982.7 L261.2,1984.0 L262.5,1975.6 L263.8,1981.9 L265.1,1983.0 L266.4,1984.5 L267.7,1984.9 L269.0,1976.4 L270.3,1976.2 L271.6,1975.8 L272.9,1973.6 L274.2,1977.4 L275.5,1977.5 L276.8,1979.4 L278.1,1967.4 L279.4,1981.8 L280.7,1982.5 L282.0,1988.2 L283.3,1974.5 L284.6,1971.8 L285.9,1972.7 L287.2,1977.1 L288.5,1967.5 L289.8,1957.1 L291.1,1957.2 L292.4,1972.5 L293.7,1976.3 L295.0,1979.1 L296.3,1980.5 L297.6,1983.8 L298.9,1975.1 L300.2,1975.0 L301.5,1975.7 L302.8,1976.3 L304.1,1967.0 L305.4,1970.2 L306.7,1969.9 L308.0,1980.1 L309.3,1977.8 L310.6,1980.8 L311.9,1978.2 L313.2,1980.8 L314.5,1978.2 L315.8,1967.4 L317.1,1968.8 L318.4,1972.3 L319.7,1973.4 L321.0,1981.6 L322.3,1971.6 L323.6,1968.8 L324.9,1968.1 L326.2,1979.9 L327.5,1973.1 L328.8,1975.0 L330.1,1967.8 L331.4,1980.6 L332.7,1964.8 L334.0,1978.0 L335.3,1975.3 L336.6,1973.9 L337.9,1983.0 L339.2,1972.6 L340.5,1986.6 L341.8,1975.8 L343.1,1970.2 L344.4,1982.2 L345.7,1961.6 L347.0,1966.3 L348.3,1979.8 L349.6,1970.3 L350.9,1966.4 L352.2,1976.6 L353.5,1985.1 L354.8,1966.8 L356.1,1977.5 L357.4,1981.2 L358.7,1970.1 L360.0,1975.0 L361.3,1958.7 L362.6,1957.5 L363.9,1965.1 L365.2,1955.5 L366.5,1963.7 L367.8,1962.5 L369.1,1984.0 L370.4,1976.3 L371.7,1975.3 L373.0,1981.1 L374.3,1969.1 L375.6,1968.9 L376.9,1984.1 L378.2,1968.5 L379.5,1977.0 L380.8,1963.2 L382.1,1967.6 L383.4,1978.9 L384.7,1983.5 L386.0,1983.3 L387.3,1974.7 L388.6,1963.7 L389.9,1975.9 L391.2,1977.5 L392.5,1984.3 L393.8,1980.4 L395.1,1972.1 L396.4,1971.5 L397.7,1969.0 L399.0,1971.2 L400.3,1971.1 L401.6,1980.1 L402.9,1968.5 L404.2,1969.8 L405.5,1980.3 L406.8,1980.2 L408.1,1976.1 L409.4,1970.5 L410.7,1970.9 L412.0,1978.2 L413.3,1979.9 L414.6,1985.2 L415.9,1978.8 L417.2,1965.8 L418.5,1978.6 L419.8,1977.8 L421.1,1966.4 L422.4,1973.1 L423.7,1979.3 L425.0,1977.9 L426.3,1986.0 L427.6,1973.2 L428.9,1969.6 L430.2,1964.9 L431.5,1975.5 L432.8,1986.5 L434.1,1982.6 L435.4,1976.2 L436.7,1961.3 L438.0,1955.3 L439.3,1966.0 L440.6,1974.2 L441.9,1967.2 L443.2,1975.9 L444.5,1970.7 L445.8,1983.8 L447.1,1979.2 L448.4,1970.6 L449.7,1982.1 L451.0,1977.3 L452.3,1972.4 L453.6,1958.1 L454.9,1968.8 L456.2,1972.0 L457.5,1971.3 L458.8,1962.8 L460.1,1984.9 L461.4,1976.2 L462.7,1968.1 L464.0,1970.0 L465.3,1987.5 L466.6,1973.3 L467.9,1978.1 L469.2,1975.5 L470.5,1981.6 L471.8,1960.8 L473.1,1961.1 L474.4,1968.0 L475.7,1983.6 L477.0,1976.6 L478.3,1977.7 L479.6,1982.5 L480.9,1982.5 L482.2,1968.7 L483.5,1971.5 L484.8,1976.5 L486.1,1984.7 L487.4,1981.9 L488.7,1978.6 L490.0,1976.3 L491.3,1974.4 L492.6,1970.0 L493.9,1977.2 L495.2,1982.1 L496.5,1973.7 L497.8,1971.1 L499.1,1972.7 L500.4,1967.9 L501.7,1978.9 L503.0,1979.8 L504.3,1978.1 L505.6,1979.1 L506.9,1973.8 L508.2,1982.9 L509.5,1968.4 L510.8,1970.7 L512.1,1969.2 L513.4,1964.3 L514.7,1960.9 L516.0,1968.8 L517.3,1956.3 L518.6,1969.4 L519.9,1945.8 L521.2,1941.8 L522.5,1911.5 L523.8,1958.6 L525.1,1864.0 L526.4,1826.7 L527.7,1366.2 L529.0,1977.5 L530.3,1857.8 L531.6,1926.3 L532.9,1917.9 L534.2,1953.7 L535.5,1925.2 L536.8,1968.0 L538.1,1937.2 L539.4,1969.9 L540.7,1958.4 L542.0,1967.6 L543.3,1959.9 L544.6,1973.2 L545.9,1970.2 L547.2,1980.6 L548.5,1977.2 L549.8,1982.1 L551.1,1974.7 L552.4,1977.7 L553.7,1978.9 L555.0,1982.7 L556.3,1978.9 L557.6,1983.4 L558.9,1978.8 L560.2,1979.8 L561.5,1977.0 L562.8,1973.0 L564.1,1983.5 L565.4,1982.3 L566.7,1980.7 L568.0,1982.1 L569.3,1980.8 L570.6,1982.7 L571.9,1976.9 L573.2,1973.4 L574.5,1983.0 L575.8,1982.1 L577.1,1979.4 L578.4,1983.3 L579.7,1982.6 L581.0,1979.6 L582.3,1982.0 L583.6,1976.8 L584.9,1972.7 L586.2,1981.1 L587.5,1979.5 L588.8,1985.7 L590.1,1983.5 L591.4,1984.2 L592.7,1982.3 L594.0,1984.0 L595.3,1982.1 L596.6,1982.7 L597.9,1973.9 L599.2,1977.7 L600.5,1978.2 L601.8,1972.1 L603.1,1980.7 L604.4,1976.1 L605.7,1973.4 L607.0,1962.7 L608.3,1983.6 L609.6,1980.7 L610.9,1978.6 L612.2,1974.7 L613.5,1987.1 L614.8,1981.3 L616.1,1983.8 L617.4,1971.6 L618.7,1971.9 L620.0,1972.7 L621.3,1967.9 L622.6,1977.2 L623.9,1976.8 L625.2,1985.7 L626.5,1978.7 L627.8,1973.7 L629.1,1970.0 L630.4,1971.6 L631.7,1974.5 L633.0,1975.7 L634.3,1981.6 L635.6,1985.9 L636.9,1970.8 L638.2,1971.6 L639.5,1974.7 L640.8,1980.2 L642.1,1980.7 L643.4,1980.9 L644.7,1983.5 L646.0,1978.1 L647.3,1974.9 L648.6,1978.3 L649.9,1971.6 L651.2,1959.9 L652.5,1968.7 L653.8,1976.0 L655.1,1974.0 L656.4,1974.3 L657.7,1975.4 L659.0,1976.3 L660.3,1977.1 L661.6,1984.1 L662.9,1967.6 L664.2,1977.8 L665.5,1983.5 L666.8,1974.7 L668.1,1982.0 L669.4,1974.9 L670.7,1974.0 L672.0,1972.1 L673.3,1970.5 L674.6,1973.1 L675.9,1973.2 L677.2,1980.0 L678.5,1980.4 L679.8,1973.8 L681.1,1977.3 L682.4,1975.7 L683.7,1984.0 L685.0,1977.7 L686.3,1974.1 L687.6,1979.6 L688.9,1978.6 L690.2,1969.1 L691.5,1973.6 L692.8,1975.9 L694.1,1970.0 L695.4,1971.0 L696.7,1976.0 L698.0,1986.0 L699.3,1979.5 L700.6,1973.4 L701.9,1978.0 L703.2,1978.7 L704.5,1969.9 L705.8,1958.8 L707.1,1983.1 L708.4,1980.9 L709.7,1973.4 L711.0,1967.8 L712.3,1985.3 L713.6,1976.6 L714.9,1971.9 L716.2,1959.2 L717.5,1973.9 L718.8,1976.1 L720.1,1966.8 L721.4,1970.0 L722.7,1972.4 L724.0,1981.5 L725.3,1977.4 L726.6,1980.4 L727.9,1979.7 L729.2,1970.8 L730.5,1981.8 L731.8,1981.5 L733.1,1965.9 L734.4,1971.0 L735.7,1977.0 L737.0,1972.4 L738.3,1969.9 L739.6,1969.9 L740.9,1972.3 L742.2,1971.3 L743.5,1963.5 L744.8,1974.3 L746.1,1968.3 L747.4,1975.6 L748.7,1978.2 L750.0,1979.5 L751.3,1970.8 L752.6,1974.4 L753.9,1980.6 L755.2,1975.1 L756.5,1971.6 L757.8,1979.3 L759.1,1968.6 L760.4,1978.5 L761.7,1967.4 L763.0,1969.7 L764.3,1958.6 L765.6,1971.8 L766.9,1986.9 L768.2,1983.3 L769.5,1969.0 L770.8,1968.8 L772.1,1976.1 L773.4,1974.1 L774.7,1976.1 L776.0,1969.6 L777.3,1979.9 L778.6,1966.7 L779.9,1968.6 L781.2,1966.8 L782.5,1969.2 L783.8,1957.6 L785.1,1957.9 L786.4,1971.9 L787.7,1980.6 L789.0,1985.4 L790.3,1982.4 L791.6,1978.3 L792.9,1969.5 L794.2,1963.0 L795.5,1963.6 L796.8,1976.9 L798.1,1977.9 L799.4,1966.7 L800.7,1970.5 L802.0,1972.6 L803.3,1985.6 L804.6,1980.4 L805.9,1985.9 L807.2,1966.1 L808.5,1962.8 L809.8,1979.0 L811.1,1984.3 L812.4,1969.9 L813.7,1977.1 L815.0,1969.6 L816.3,1974.7 L817.6,1982.5 L818.9,1973.7 L820.2,1974.7 L821.5,1974.0 L822.8,1984.8 L824.1,1986.2 L825.4,1975.0 L826.7,1973.3 L828.0,1985.2 L829.3,1966.2 L830.6,1976.2 L831.9,1980.7 L833.2,1983.9 L834.5,1983.2 L835.8,1976.8 L837.1,1960.0 L838.4,1979.0 L839.7,1974.5 L841.0,1982.2 L842.3,1975.7 L843.6,1959.6 L844.9,1970.8 L846.2,1984.4 L847.5,1982.4 L848.8,1975.4 L850.1,1983.6 L851.4,1983.5 L852.7,1980.0 L854.0,1979.2 L855.3,1963.5 L856.6,1986.2 L857.9,1984.8 L859.2,1985.0 L860.5,1978.2 L861.8,1977.0 L863.1,1977.4 L864.4,1986.5 L865.7,1982.8 L867.0,1982.9 L868.3,1979.9 L869.6,1975.4 L870.9,1980.8 L872.2,1980.9 L873.5,1986.8 L874.8,1980.4 L876.1,1978.1 L877.4,1977.9 L878.7,1981.1 L880.0,1985.5 L881.3,1983.7 L882.6,1971.7 L883.9,1982.7 L885.2,1985.9 L886.5,1978.8 L887.8,1970.8 L889.1,1977.8 L890.4,1974.3 L891.7,1978.9 L893.0,1970.9 L894.3,1981.1 L895.6,1985.4 L896.9,1973.6 L898.2,1981.3 L899.5,1984.2 L900.8,1985.4 L902.1,1987.1 L903.4,1984.3 L904.7,1979.1 L906.0,1970.8 L907.3,1972.6 L908.6,1983.0 L909.9,1977.6 L911.2,1982.8 L912.5,1981.9 L913.8,1978.2 L915.1,1980.8 L916.4,1981.6 L917.7,1976.0 L919.0,1959.1 L920.3,1970.6 L921.6,1979.2 L922.9,1979.9 L924.2,1975.0 L925.5,1972.5 L926.8,1967.5 L928.1,1977.4 L929.4,1969.8 L930.7,1976.1 L932.0,1972.2 L933.3,1981.0 L934.6,1980.2 L935.9,1983.2 L937.2,1973.2 L938.5,1986.0 L939.8,1980.7 L941.1,1979.2 L942.4,1972.1 L943.7,1964.6 L945.0,1973.5 L946.3,1980.7 L947.6,1977.0 L948.9,1980.8 L950.2,1979.7 L951.5,1981.4 L952.8,1967.4 L954.1,1985.5 L955.4,1984.2 L956.7,1977.0 L958.0,1970.7 L959.3,1965.1 L960.6,1971.8 L961.9,1975.8 L963.2,1972.8 L964.5,1969.0 L965.8,1979.9 L967.1,1972.2 L968.4,1979.4 L969.7,1985.2 L971.0,1967.8 L972.3,1979.7 L973.6,1975.2 L974.9,1983.3 L976.2,1981.6 L977.5,1981.0 L978.8,1980.0 L980.1,1979.5 L981.4,1979.2 L982.7,1971.4 L984.0,1978.0 L985.3,1978.1 L986.6,1970.9 L987.9,1985.0 L989.2,1980.3 L990.5,1974.0 L991.8,1977.7 L993.1,1968.2 L994.4,1971.1 L995.7,1965.7 L997.0,1974.1 L998.3,1982.7 L999.6,1980.4 L1000.9,1982.4 L1002.2,1983.7 L1003.5,1965.1 L1004.8,1983.6 L1006.1,1978.0 L1007.4,1970.8 L1008.7,1973.3 L1010.0,1984.2 L1011.3,1978.3 L1012.6,1974.7 L1013.9,1970.3 L1015.2,1958.7 L1016.5,1985.4 L1017.8,1981.6 L1019.1,1985.6 L1020.4,1967.3 L1021.7,1983.5 L1023.0,1980.4 L1024.3,1981.6 L1025.6,1977.1 L1026.9,1973.1 L1028.2,1968.1 L1029.5,1959.2 L1030.8,1969.2 L1032.1,1981.5 L1033.4,1981.6 L1034.7,1964.5 L1036.0,1961.4 L1037.3,1957.2 L1038.6,1970.5 L1039.9,1967.3 L1041.2,1984.5 L1042.5,1984.1 L1043.8,1984.2 L1045.1,1963.3 L1046.4,1961.3 L1047.7,1960.5 L1049.0,1959.1 L1050.3,1980.0 L1051.6,1982.8 L1052.9,1983.6 L1054.2,1974.4 L1055.5,1983.4 L1056.8,1983.0 L1058.1,1983.0 L1059.4,1981.4 L1060.7,1973.8 L1062.0,1978.7 L1063.3,1971.3 L1064.6,1956.0 L1065.9,1959.2 L1067.2,1966.6 L1068.5,1966.5 L1069.8,1964.4 L1071.1,1968.6 L1072.4,1971.7 L1073.7,1968.9 L1075.0,1960.0 L1076.3,1983.0 L1077.6,1969.2 L1078.9,1970.7 L1080.2,1983.8 L1081.5,1972.3 L1082.8,1969.0 L1084.1,1972.6 L1085.4,1965.3 L1086.7,1970.1 L1088.0,1961.1 L1089.3,1973.8 L1090.6,1969.5 L1091.9,1968.7 L1093.2,1973.4 L1094.5,1967.4 L1095.8,1981.9 L1097.1,1987.4 L1098.4,1972.3 L1099.7,1981.2 L1101.0,1962.7 L1102.3,1962.1 L1103.6,1975.6 L1104.9,1963.0 L1106.2,1971.7 L1107.5,1981.4 L1108.8,1975.9 L1110.1,1975.1 L1111.4,1986.0 L1112.7,1982.2 L1114.0,1976.0 L1115.3,1984.4 L1116.6,1965.2 L1117.9,1983.5 L1119.2,1963.1 L1120.5,1974.8 L1121.8,1982.7 L1123.1,1969.8 L1124.4,1981.2 L1125.7,1965.3 L1127.0,1972.7 L1128.3,1957.8 L1129.6,1957.3 L1130.9,1965.9 L1132.2,1959.8" fill="none" stroke="#7e2f8e" stroke-width="3" stroke-linejoin="round" shape-rendering="crispEdges" clip-path="url(#clipc)"/>
<rect x="340" y="1185.5" width="3" height="11.5" fill="#262626"/>
<rect x="340" y="1977" width="3" height="11.5" fill="#262626"/>
<rect x="683" y="1185.5" width="3" height="11.5" fill="#262626"/>
<rect x="683" y="1977" width="3" height="11.5" fill="#262626"/>
<rect x="1026" y="1185.5" width="3" height="11.5" fill="#262626"/>
<rect x="1026" y="1977" width="3" height="11.5" fill="#262626"/>
<rect x="238.5" y="1826.4" width="11.5" height="3" fill="#262626"/>
<rect x="1119" y="1826.4" width="11.5" height="3" fill="#262626"/>
<rect x="238.5" y="1665.8" width="11.5" height="3" fill="#262626"/>
<rect x="1119" y="1665.8" width="11.5" height="3" fill="#262626"/>
<rect x="238.5" y="1505.2" width="11.5" height="3" fill="#262626"/>
<rect x="1119" y="1505.2" width="11.5" height="3" fill="#262626"/>
<rect x="238.5" y="1344.6" width="11.5" height="3" fill="#262626"/>
<rect x="1119" y="1344.6" width="11.5" height="3" fill="#262626"/>
<rect x="238.5" y="1185.5" width="892" height="803" fill="none" stroke="#262626" stroke-width="3"/>
<rect x="464.6" y="1226.6" width="625.2" height="59.9" fill="#fff" stroke="#262626" stroke-width="3"/>
<rect x="477.2" y="1255" width="126" height="3" fill="#7e2f8e"/>
<text transform="translate(609.71,1272.4) scale(1.0935,1)" font-family='"Liberation Serif", serif' font-size="45.6" fill="#000" stroke="#000" stroke-width="0.9" stroke-linejoin="round">177th range sample bin</text>
<rect x="509" y="1334.1" width="37" height="37" fill="#ffffe0"/>
<rect x="511.5" y="1336.6" width="32" height="32" fill="#bebea2"/>
<rect x="514.2" y="1339.3" width="26.6" height="26.6" fill="#000"/>
<rect x="548.4" y="1373.8" width="220.1" height="79.6" fill="#ffffee" stroke="#c8c8c8" stroke-width="2.6"/>
<text transform="translate(560.56,1430.2) scale(0.9977,1)" font-family='"Liberation Sans", sans-serif' font-size="42" fill="#000" stroke="#000" stroke-width="0.9" stroke-linejoin="round">X: -0.2286</text>
<text transform="translate(299.78,2052.5) scale(0.9823,1)" font-family='"Liberation Serif", serif' font-size="51.6" fill="#262626" stroke="#262626" stroke-width="0.7" stroke-linejoin="round">-0.5</text>
<text transform="translate(671.15,2052.5) scale(0.9998,1)" font-family='"Liberation Serif", serif' font-size="51.6" fill="#262626" stroke="#262626" stroke-width="0.7" stroke-linejoin="round">0</text>
<text transform="translate(994.87,2052.5) scale(0.9853,1)" font-family='"Liberation Serif", serif' font-size="51.6" fill="#262626" stroke="#262626" stroke-width="0.7" stroke-linejoin="round">0.5</text>
<text transform="translate(92.32,1204.7) scale(0.9885,1)" font-family='"Liberation Serif", serif' font-size="51.6" fill="#262626" stroke="#262626" stroke-width="0.7" stroke-linejoin="round">10000</text>
<text transform="translate(118.68,1365.3) scale(0.9800,1)" font-family='"Liberation Serif", serif' font-size="51.6" fill="#262626" stroke="#262626" stroke-width="0.7" stroke-linejoin="round">8000</text>
<text transform="translate(118.17,1525.9) scale(0.9851,1)" font-family='"Liberation Serif", serif' font-size="51.6" fill="#262626" stroke="#262626" stroke-width="0.7" stroke-linejoin="round">6000</text>
<text transform="translate(119,1686.5) scale(0.9769,1)" font-family='"Liberation Serif", serif' font-size="51.6" fill="#262626" stroke="#262626" stroke-width="0.7" stroke-linejoin="round">4000</text>
<text transform="translate(118.17,1847.1) scale(0.9851,1)" font-family='"Liberation Serif", serif' font-size="51.6" fill="#262626" stroke="#262626" stroke-width="0.7" stroke-linejoin="round">2000</text>
<text transform="translate(194.16,2007.7) scale(0.9954,1)" font-family='"Liberation Serif", serif' font-size="51.6" fill="#262626" stroke="#262626" stroke-width="0.7" stroke-linejoin="round">0</text>
<text transform="translate(70.5,1722.4) rotate(-90) scale(1.1211,1)" font-family='"Liberation Serif", serif' font-size="56.5" fill="#262626" stroke="#262626" stroke-width="0.7" stroke-linejoin="round">Amplitude</text>
<text transform="translate(324.48,2114.1) scale(1.0827,1)" font-family='"Liberation Serif", serif' font-size="56.5" fill="#262626" stroke="#262626" stroke-width="0.7" stroke-linejoin="round">Normalized scaled frequency</text>
<rect x="1532.5" y="1185.5" width="917" height="802" fill="#fff"/>
<rect x="1566" y="1185.5" width="3" height="802" fill="#dfdfdf"/>
<rect x="1707" y="1185.5" width="3" height="802" fill="#dfdfdf"/>
<rect x="1848" y="1185.5" width="3" height="802" fill="#dfdfdf"/>
<rect x="1989" y="1185.5" width="3" height="802" fill="#dfdfdf"/>
<rect x="2130" y="1185.5" width="3" height="802" fill="#dfdfdf"/>
<rect x="2271" y="1185.5" width="3" height="802" fill="#dfdfdf"/>
<rect x="2412" y="1185.5" width="3" height="802" fill="#dfdfdf"/>
<rect x="1532.5" y="1825.6" width="917" height="3" fill="#dfdfdf"/>
<rect x="1532.5" y="1665.2" width="917" height="3" fill="#dfdfdf"/>
<rect x="1532.5" y="1504.8" width="917" height="3" fill="#dfdfdf"/>
<rect x="1532.5" y="1344.4" width="917" height="3" fill="#dfdfdf"/>
<path d="M1531.7,1953.2 L1533.0,1950.7 L1534.3,1955.3 L1535.6,1963.9 L1536.9,1977.6 L1538.2,1965.4 L1539.5,1948.6 L1540.8,1981.8 L1542.1,1963.2 L1543.4,1957.2 L1544.7,1978.2 L1546.0,1964.4 L1547.3,1972.3 L1548.6,1983.6 L1549.9,1958.2 L1551.2,1974.8 L1552.5,1974.5 L1553.8,1964.3 L1555.1,1949.8 L1556.4,1984.4 L1557.7,1954.8 L1559.0,1971.4 L1560.3,1972.4 L1561.6,1972.2 L1562.9,1978.3 L1564.2,1967.4 L1565.5,1968.5 L1566.8,1979.1 L1568.1,1981.2 L1569.4,1962.5 L1570.7,1977.6 L1572.0,1972.7 L1573.3,1973.6 L1574.6,1967.3 L1575.9,1976.4 L1577.2,1960.2 L1578.5,1961.9 L1579.8,1968.7 L1581.1,1977.1 L1582.4,1958.7 L1583.7,1945.0 L1585.0,1955.1 L1586.3,1946.2 L1587.6,1952.9 L1588.9,1965.4 L1590.2,1965.9 L1591.5,1952.8 L1592.8,1961.4 L1594.1,1977.8 L1595.4,1969.4 L1596.7,1977.9 L1598.0,1970.6 L1599.3,1975.9 L1600.6,1968.3 L1601.9,1969.0 L1603.2,1980.3 L1604.5,1978.0 L1605.8,1977.6 L1607.1,1966.8 L1608.4,1971.6 L1609.7,1957.4 L1611.0,1977.3 L1612.3,1970.1 L1613.6,1952.6 L1614.9,1951.5 L1616.2,1954.9 L1617.5,1954.3 L1618.8,1973.0 L1620.1,1930.7 L1621.4,1966.4 L1622.7,1980.2 L1624.0,1976.4 L1625.3,1971.6 L1626.6,1965.9 L1627.9,1973.1 L1629.2,1964.9 L1630.5,1971.2 L1631.8,1953.3 L1633.1,1956.7 L1634.4,1950.2 L1635.7,1952.4 L1637.0,1983.8 L1638.3,1965.4 L1639.6,1940.7 L1640.9,1959.1 L1642.2,1963.0 L1643.5,1941.9 L1644.8,1966.4 L1646.1,1957.0 L1647.4,1961.6 L1648.7,1946.4 L1650.0,1956.9 L1651.3,1942.8 L1652.6,1937.0 L1653.9,1932.4 L1655.2,1944.5 L1656.5,1960.2 L1657.8,1962.6 L1659.1,1962.9 L1660.4,1957.6 L1661.7,1966.9 L1663.0,1975.0 L1664.3,1944.7 L1665.6,1955.4 L1666.9,1956.2 L1668.2,1945.1 L1669.5,1971.7 L1670.8,1972.1 L1672.1,1981.5 L1673.4,1984.4 L1674.7,1967.0 L1676.0,1948.3 L1677.3,1948.6 L1678.6,1964.7 L1679.9,1975.1 L1681.2,1941.5 L1682.5,1949.1 L1683.8,1980.4 L1685.1,1984.0 L1686.4,1974.1 L1687.7,1969.1 L1689.0,1979.9 L1690.3,1964.3 L1691.6,1978.0 L1692.9,1962.1 L1694.2,1949.3 L1695.5,1955.1 L1696.8,1960.3 L1698.1,1955.5 L1699.4,1936.1 L1700.7,1966.2 L1702.0,1970.3 L1703.3,1973.0 L1704.6,1971.3 L1705.9,1975.1 L1707.2,1968.2 L1708.5,1967.6 L1709.8,1954.6 L1711.1,1983.1 L1712.4,1956.4 L1713.7,1967.4 L1715.0,1978.1 L1716.3,1976.3 L1717.6,1953.6 L1718.9,1976.3 L1720.2,1960.2 L1721.5,1940.8 L1722.8,1967.0 L1724.1,1976.4 L1725.4,1968.7 L1726.7,1956.0 L1728.0,1968.4 L1729.3,1979.4 L1730.6,1967.0 L1731.9,1967.5 L1733.2,1949.9 L1734.5,1958.5 L1735.8,1943.4 L1737.1,1967.0 L1738.4,1949.9 L1739.7,1945.0 L1741.0,1913.5 L1742.3,1921.6 L1743.6,1896.4 L1744.9,1898.9 L1746.2,1866.2 L1747.5,1829.9 L1748.8,1381.2 L1750.1,1966.0 L1751.4,1860.2 L1752.7,1926.9 L1754.0,1916.5 L1755.3,1957.7 L1756.6,1932.8 L1757.9,1934.6 L1759.2,1930.3 L1760.5,1949.9 L1761.8,1941.6 L1763.1,1965.3 L1764.4,1957.8 L1765.7,1940.5 L1767.0,1964.5 L1768.3,1972.2 L1769.6,1947.9 L1770.9,1960.8 L1772.2,1973.0 L1773.5,1977.9 L1774.8,1968.4 L1776.1,1952.6 L1777.4,1970.8 L1778.7,1962.3 L1780.0,1975.4 L1781.3,1964.5 L1782.6,1969.4 L1783.9,1957.2 L1785.2,1951.0 L1786.5,1958.6 L1787.8,1960.7 L1789.1,1946.0 L1790.4,1962.1 L1791.7,1969.6 L1793.0,1957.3 L1794.3,1959.2 L1795.6,1962.7 L1796.9,1972.0 L1798.2,1972.7 L1799.5,1973.2 L1800.8,1940.1 L1802.1,1927.3 L1803.4,1958.6 L1804.7,1980.3 L1806.0,1954.7 L1807.3,1967.3 L1808.6,1977.2 L1809.9,1975.5 L1811.2,1958.4 L1812.5,1981.0 L1813.8,1949.0 L1815.1,1949.0 L1816.4,1932.0 L1817.7,1942.9 L1819.0,1951.1 L1820.3,1957.3 L1821.6,1949.8 L1822.9,1947.2 L1824.2,1967.0 L1825.5,1976.9 L1826.8,1954.0 L1828.1,1964.5 L1829.4,1976.6 L1830.7,1965.5 L1832.0,1963.7 L1833.3,1949.7 L1834.6,1944.0 L1835.9,1970.2 L1837.2,1951.7 L1838.5,1956.0 L1839.8,1964.3 L1841.1,1943.9 L1842.4,1972.4 L1843.7,1962.0 L1845.0,1964.8 L1846.3,1967.2 L1847.6,1974.0 L1848.9,1977.8 L1850.2,1984.8 L1851.5,1974.8 L1852.8,1964.9 L1854.1,1983.7 L1855.4,1955.6 L1856.7,1954.6 L1858.0,1957.2 L1859.3,1958.7 L1860.6,1979.1 L1861.9,1961.6 L1863.2,1974.5 L1864.5,1968.4 L1865.8,1963.2 L1867.1,1980.6 L1868.4,1967.6 L1869.7,1963.1 L1871.0,1959.5 L1872.3,1943.8 L1873.6,1945.5 L1874.9,1949.7 L1876.2,1970.9 L1877.5,1972.2 L1878.8,1954.7 L1880.1,1976.6 L1881.4,1967.2 L1882.7,1982.4 L1884.0,1970.8 L1885.3,1951.0 L1886.6,1947.8 L1887.9,1962.8 L1889.2,1952.2 L1890.5,1970.4 L1891.8,1959.0 L1893.1,1974.0 L1894.4,1983.6 L1895.7,1954.9 L1897.0,1956.3 L1898.3,1979.4 L1899.6,1977.1 L1900.9,1973.4 L1902.2,1933.6 L1903.5,1950.9 L1904.8,1966.8 L1906.1,1967.0 L1907.4,1961.9 L1908.7,1976.4 L1910.0,1969.7 L1911.3,1966.1 L1912.6,1952.3 L1913.9,1968.2 L1915.2,1964.3 L1916.5,1953.5 L1917.8,1940.2 L1919.1,1980.9 L1920.4,1979.6 L1921.7,1974.8 L1923.0,1948.0 L1924.3,1970.0 L1925.6,1959.8 L1926.9,1947.8 L1928.2,1958.8 L1929.5,1978.7 L1930.8,1971.6 L1932.1,1981.3 L1933.4,1968.8 L1934.7,1964.8 L1936.0,1972.5 L1937.3,1957.3 L1938.6,1974.5 L1939.9,1974.2 L1941.2,1964.2 L1942.5,1966.4 L1943.8,1961.3 L1945.1,1973.9 L1946.4,1970.8 L1947.7,1956.3 L1949.0,1944.6 L1950.3,1954.7 L1951.6,1981.5 L1952.9,1970.9 L1954.2,1973.8 L1955.5,1964.6 L1956.8,1954.8 L1958.1,1976.9 L1959.4,1967.5 L1960.7,1983.5 L1962.0,1971.6 L1963.3,1947.1 L1964.6,1946.5 L1965.9,1967.8 L1967.2,1956.5 L1968.5,1951.9 L1969.8,1965.5 L1971.1,1977.6 L1972.4,1964.7 L1973.7,1977.8 L1975.0,1983.3 L1976.3,1967.5 L1977.6,1970.5 L1978.9,1972.0 L1980.2,1958.6 L1981.5,1943.7 L1982.8,1943.9 L1984.1,1974.4 L1985.4,1972.7 L1986.7,1972.4 L1988.0,1974.5 L1989.3,1982.4 L1990.6,1976.6 L1991.9,1971.3 L1993.2,1974.3 L1994.5,1963.7 L1995.8,1984.0 L1997.1,1958.9 L1998.4,1946.5 L1999.7,1965.9 L2001.0,1954.5 L2002.3,1973.2 L2003.6,1976.9 L2004.9,1969.9 L2006.2,1977.5 L2007.5,1969.2 L2008.8,1972.2 L2010.1,1958.1 L2011.4,1959.2 L2012.7,1966.6 L2014.0,1957.5 L2015.3,1960.9 L2016.6,1965.1 L2017.9,1956.8 L2019.2,1951.1 L2020.5,1977.1 L2021.8,1951.8 L2023.1,1956.2 L2024.4,1979.5 L2025.7,1960.1 L2027.0,1928.4 L2028.3,1948.6 L2029.6,1964.5 L2030.9,1974.2 L2032.2,1981.7 L2033.5,1981.4 L2034.8,1980.4 L2036.1,1962.8 L2037.4,1953.1 L2038.7,1945.6 L2040.0,1936.3 L2041.3,1930.7 L2042.6,1948.2 L2043.9,1948.2 L2045.2,1943.9 L2046.5,1972.5 L2047.8,1933.8 L2049.1,1951.6 L2050.4,1984.3 L2051.7,1973.2 L2053.0,1967.3 L2054.3,1966.6 L2055.6,1969.3 L2056.9,1961.8 L2058.2,1946.2 L2059.5,1956.4 L2060.8,1977.7 L2062.1,1975.5 L2063.4,1948.5 L2064.7,1944.1 L2066.0,1938.6 L2067.3,1961.6 L2068.6,1934.3 L2069.9,1968.6 L2071.2,1938.0 L2072.5,1950.0 L2073.8,1964.4 L2075.1,1966.0 L2076.4,1938.3 L2077.7,1939.4 L2079.0,1941.0 L2080.3,1977.2 L2081.6,1970.2 L2082.9,1979.2 L2084.2,1963.7 L2085.5,1966.5 L2086.8,1955.2 L2088.1,1929.8 L2089.4,1936.0 L2090.7,1926.2 L2092.0,1956.9 L2093.3,1985.1 L2094.6,1971.2 L2095.9,1950.7 L2097.2,1932.8 L2098.5,1974.1 L2099.8,1961.9 L2101.1,1956.8 L2102.4,1945.8 L2103.7,1946.6 L2105.0,1976.8 L2106.3,1969.6 L2107.6,1981.8 L2108.9,1986.0 L2110.2,1965.4 L2111.5,1957.4 L2112.8,1938.1 L2114.1,1970.1 L2115.4,1978.3 L2116.7,1971.9 L2118.0,1967.6 L2119.3,1948.6 L2120.6,1970.4 L2121.9,1975.0 L2123.2,1955.0 L2124.5,1951.7 L2125.8,1923.2 L2127.1,1939.5 L2128.4,1970.2 L2129.7,1932.6 L2131.0,1949.5 L2132.3,1941.9 L2133.6,1946.9 L2134.9,1921.4 L2136.2,1947.2 L2137.5,1975.0 L2138.8,1967.5 L2140.1,1938.0 L2141.4,1955.1 L2142.7,1980.5 L2144.0,1959.7 L2145.3,1968.7 L2146.6,1977.6 L2147.9,1956.9 L2149.2,1962.1 L2150.5,1972.4 L2151.8,1971.1 L2153.1,1961.8 L2154.4,1964.5 L2155.7,1964.2 L2157.0,1966.2 L2158.3,1937.4 L2159.6,1977.0 L2160.9,1964.5 L2162.2,1949.0 L2163.5,1978.8 L2164.8,1965.3 L2166.1,1985.0 L2167.4,1969.4 L2168.7,1959.4 L2170.0,1949.7 L2171.3,1956.6 L2172.6,1979.2 L2173.9,1978.8 L2175.2,1935.1 L2176.5,1940.7 L2177.8,1948.5 L2179.1,1957.2 L2180.4,1936.3 L2181.7,1954.4 L2183.0,1971.9 L2184.3,1979.1 L2185.6,1971.9 L2186.9,1948.9 L2188.2,1954.8 L2189.5,1956.9 L2190.8,1962.7 L2192.1,1966.4 L2193.4,1966.3 L2194.7,1963.9 L2196.0,1968.5 L2197.3,1978.2 L2198.6,1957.0 L2199.9,1961.6 L2201.2,1968.5 L2202.5,1979.5 L2203.8,1966.7 L2205.1,1983.7 L2206.4,1980.8 L2207.7,1952.7 L2209.0,1981.4 L2210.3,1979.1 L2211.6,1965.8 L2212.9,1979.7 L2214.2,1977.6 L2215.5,1974.4 L2216.8,1975.1 L2218.1,1970.6 L2219.4,1953.4 L2220.7,1980.5 L2222.0,1951.1 L2223.3,1957.0 L2224.6,1976.7 L2225.9,1979.8 L2227.2,1964.4 L2228.5,1979.3 L2229.8,1968.1 L2231.1,1964.3 L2232.4,1983.5 L2233.7,1974.3 L2235.0,1974.1 L2236.3,1977.2 L2237.6,1976.4 L2238.9,1962.4 L2240.2,1966.9 L2241.5,1966.3 L2242.8,1961.4 L2244.1,1965.3 L2245.4,1981.0 L2246.7,1970.6 L2248.0,1965.2 L2249.3,1956.1 L2250.6,1972.6 L2251.9,1962.2 L2253.2,1960.9 L2254.5,1963.2 L2255.8,1972.4 L2257.1,1970.7 L2258.4,1972.1 L2259.7,1976.7 L2261.0,1960.6 L2262.3,1961.5 L2263.6,1978.5 L2264.9,1985.7 L2266.2,1975.5 L2267.5,1965.1 L2268.8,1953.9 L2270.1,1974.6 L2271.4,1977.3 L2272.7,1974.9 L2274.0,1985.0 L2275.3,1972.3 L2276.6,1963.7 L2277.9,1973.8 L2279.2,1948.3 L2280.5,1951.0 L2281.8,1962.3 L2283.1,1947.8 L2284.4,1947.2 L2285.7,1954.2 L2287.0,1968.1 L2288.3,1966.1 L2289.6,1976.2 L2290.9,1949.5 L2292.2,1967.8 L2293.5,1956.7 L2294.8,1969.7 L2296.1,1969.6 L2297.4,1974.2 L2298.7,1952.4 L2300.0,1974.9 L2301.3,1961.5 L2302.6,1971.8 L2303.9,1966.1 L2305.2,1966.4 L2306.5,1972.9 L2307.8,1961.4 L2309.1,1951.8 L2310.4,1950.0 L2311.7,1964.3 L2313.0,1977.6 L2314.3,1959.4 L2315.6,1964.1 L2316.9,1962.6 L2318.2,1974.7 L2319.5,1948.1 L2320.8,1961.0 L2322.1,1981.4 L2323.4,1973.7 L2324.7,1946.4 L2326.0,1934.5 L2327.3,1956.9 L2328.6,1974.1 L2329.9,1955.6 L2331.2,1975.3 L2332.5,1969.2 L2333.8,1986.2 L2335.1,1976.9 L2336.4,1984.2 L2337.7,1955.1 L2339.0,1977.5 L2340.3,1969.0 L2341.6,1949.6 L2342.9,1954.6 L2344.2,1974.7 L2345.5,1967.2 L2346.8,1960.4 L2348.1,1961.3 L2349.4,1974.5 L2350.7,1971.2 L2352.0,1977.9 L2353.3,1963.3 L2354.6,1965.2 L2355.9,1966.5 L2357.2,1976.4 L2358.5,1971.7 L2359.8,1954.6 L2361.1,1969.0 L2362.4,1942.2 L2363.7,1985.9 L2365.0,1969.7 L2366.3,1962.0 L2367.6,1953.5 L2368.9,1947.0 L2370.2,1957.0 L2371.5,1954.1 L2372.8,1928.8 L2374.1,1950.1 L2375.4,1939.1 L2376.7,1962.9 L2378.0,1944.8 L2379.3,1972.6 L2380.6,1971.4 L2381.9,1971.9 L2383.2,1964.5 L2384.5,1943.3 L2385.8,1982.2 L2387.1,1979.8 L2388.4,1938.4 L2389.7,1963.7 L2391.0,1953.7 L2392.3,1951.4 L2393.6,1952.9 L2394.9,1949.7 L2396.2,1962.8 L2397.5,1965.7 L2398.8,1947.4 L2400.1,1974.4 L2401.4,1978.0 L2402.7,1955.4 L2404.0,1954.6 L2405.3,1927.2 L2406.6,1970.7 L2407.9,1966.6 L2409.2,1947.9 L2410.5,1954.8 L2411.8,1971.7 L2413.1,1929.3 L2414.4,1950.0 L2415.7,1955.5 L2417.0,1969.3 L2418.3,1956.2 L2419.6,1960.8 L2420.9,1961.1 L2422.2,1964.5 L2423.5,1931.6 L2424.8,1927.8 L2426.1,1933.8 L2427.4,1974.9 L2428.7,1949.9 L2430.0,1923.3 L2431.3,1927.4 L2432.6,1944.0 L2433.9,1969.2 L2435.2,1951.7 L2436.5,1963.7 L2437.8,1975.2 L2439.1,1982.9 L2440.4,1977.1 L2441.7,1958.5 L2443.0,1970.0 L2444.3,1943.3 L2445.6,1952.7 L2446.9,1949.6 L2448.2,1976.7 L2449.5,1947.3 L2450.8,1956.4" fill="none" stroke="#ff0000" stroke-width="3" stroke-linejoin="round" shape-rendering="crispEdges" clip-path="url(#clipd)"/>
<rect x="1566" y="1185.5" width="3" height="11.5" fill="#262626"/>
<rect x="1566" y="1976" width="3" height="11.5" fill="#262626"/>
<rect x="1707" y="1185.5" width="3" height="11.5" fill="#262626"/>
<rect x="1707" y="1976" width="3" height="11.5" fill="#262626"/>
<rect x="1848" y="1185.5" width="3" height="11.5" fill="#262626"/>
<rect x="1848" y="1976" width="3" height="11.5" fill="#262626"/>
<rect x="1989" y="1185.5" width="3" height="11.5" fill="#262626"/>
<rect x="1989" y="1976" width="3" height="11.5" fill="#262626"/>
<rect x="2130" y="1185.5" width="3" height="11.5" fill="#262626"/>
<rect x="2130" y="1976" width="3" height="11.5" fill="#262626"/>
<rect x="2271" y="1185.5" width="3" height="11.5" fill="#262626"/>
<rect x="2271" y="1976" width="3" height="11.5" fill="#262626"/>
<rect x="2412" y="1185.5" width="3" height="11.5" fill="#262626"/>
<rect x="2412" y="1976" width="3" height="11.5" fill="#262626"/>
<rect x="1532.5" y="1825.6" width="11.5" height="3" fill="#262626"/>
<rect x="2438" y="1825.6" width="11.5" height="3" fill="#262626"/>
<rect x="1532.5" y="1665.2" width="11.5" height="3" fill="#262626"/>
<rect x="2438" y="1665.2" width="11.5" height="3" fill="#262626"/>
<rect x="1532.5" y="1504.8" width="11.5" height="3" fill="#262626"/>
<rect x="2438" y="1504.8" width="11.5" height="3" fill="#262626"/>
<rect x="1532.5" y="1344.4" width="11.5" height="3" fill="#262626"/>
<rect x="2438" y="1344.4" width="11.5" height="3" fill="#262626"/>
<rect x="1532.5" y="1185.5" width="917" height="802" fill="none" stroke="#262626" stroke-width="3"/>
<rect x="1783.5" y="1226.8" width="625.3" height="60.5" fill="#fff" stroke="#262626" stroke-width="3"/>
<rect x="1795.1" y="1255.6" width="126.8" height="3" fill="#ff0000"/>
<text transform="translate(1928.81,1273) scale(1.0924,1)" font-family='"Liberation Serif", serif' font-size="45.6" fill="#000" stroke="#000" stroke-width="0.9" stroke-linejoin="round">207th range sample bin</text>
<rect x="1730.5" y="1345.1" width="37" height="37" fill="#ffffe0"/>
<rect x="1733" y="1347.6" width="32" height="32" fill="#bebea2"/>
<rect x="1735.7" y="1350.3" width="26.6" height="26.6" fill="#000"/>
<rect x="1769.6" y="1384.8" width="219.2" height="79.6" fill="#ffffee" stroke="#c8c8c8" stroke-width="2.6"/>
<text transform="translate(1781.36,1441.8) scale(1.0051,1)" font-family='"Liberation Sans", sans-serif' font-size="42" fill="#000" stroke="#000" stroke-width="0.9" stroke-linejoin="round">X: -0.3429</text>
<text transform="translate(1525.59,2051.5) scale(0.9747,1)" font-family='"Liberation Serif", serif' font-size="51.6" fill="#262626" stroke="#262626" stroke-width="0.7" stroke-linejoin="round">-0.6</text>
<text transform="translate(1666.7,2051.5) scale(0.9709,1)" font-family='"Liberation Serif", serif' font-size="51.6" fill="#262626" stroke="#262626" stroke-width="0.7" stroke-linejoin="round">-0.4</text>
<text transform="translate(1807.97,2051.5) scale(0.9864,1)" font-family='"Liberation Serif", serif' font-size="51.6" fill="#262626" stroke="#262626" stroke-width="0.7" stroke-linejoin="round">-0.2</text>
<text transform="translate(1975.83,2051.5) scale(1.0130,1)" font-family='"Liberation Serif", serif' font-size="51.6" fill="#262626" stroke="#262626" stroke-width="0.7" stroke-linejoin="round">0</text>
<text transform="translate(2098.46,2051.5) scale(0.9972,1)" font-family='"Liberation Serif", serif' font-size="51.6" fill="#262626" stroke="#262626" stroke-width="0.7" stroke-linejoin="round">0.2</text>
<text transform="translate(2238.97,2051.5) scale(0.9882,1)" font-family='"Liberation Serif", serif' font-size="51.6" fill="#262626" stroke="#262626" stroke-width="0.7" stroke-linejoin="round">0.4</text>
<text transform="translate(2380.47,2051.5) scale(0.9851,1)" font-family='"Liberation Serif", serif' font-size="51.6" fill="#262626" stroke="#262626" stroke-width="0.7" stroke-linejoin="round">0.6</text>
<text transform="translate(1410.33,1204.7) scale(0.9973,1)" font-family='"Liberation Serif", serif' font-size="51.6" fill="#262626" stroke="#262626" stroke-width="0.7" stroke-linejoin="round">5000</text>
<text transform="translate(1412.4,1365.1) scale(0.9769,1)" font-family='"Liberation Serif", serif' font-size="51.6" fill="#262626" stroke="#262626" stroke-width="0.7" stroke-linejoin="round">4000</text>
<text transform="translate(1410.85,1525.5) scale(0.9921,1)" font-family='"Liberation Serif", serif' font-size="51.6" fill="#262626" stroke="#262626" stroke-width="0.7" stroke-linejoin="round">3000</text>
<text transform="translate(1410.85,1685.9) scale(0.9921,1)" font-family='"Liberation Serif", serif' font-size="51.6" fill="#262626" stroke="#262626" stroke-width="0.7" stroke-linejoin="round">2000</text>
<text transform="translate(1411.95,1846.3) scale(0.9813,1)" font-family='"Liberation Serif", serif' font-size="51.6" fill="#262626" stroke="#262626" stroke-width="0.7" stroke-linejoin="round">1000</text>
<text transform="translate(1488.2,2006.7) scale(0.9690,1)" font-family='"Liberation Serif", serif' font-size="51.6" fill="#262626" stroke="#262626" stroke-width="0.7" stroke-linejoin="round">0</text>
<text transform="translate(1389.7,1722.4) rotate(-90) scale(1.1211,1)" font-family='"Liberation Serif", serif' font-size="56.5" fill="#262626" stroke="#262626" stroke-width="0.7" stroke-linejoin="round">Amplitude</text>
<text transform="translate(1630.78,2113.2) scale(1.0813,1)" font-family='"Liberation Serif", serif' font-size="56.5" fill="#262626" stroke="#262626" stroke-width="0.7" stroke-linejoin="round">Normalized scaled frequency</text>
<text y="1099.2" font-family='"Liberation Serif", serif' font-size="85" fill="#000" stroke="#000" stroke-width="0.6"><tspan x="575.02">(</tspan><tspan x="602.4" font-weight="bold" stroke-width="1">a</tspan><tspan x="643.5">)</tspan></text>
<text y="1099.8" font-family='"Liberation Serif", serif' font-size="85" fill="#000" stroke="#000" stroke-width="0.6"><tspan x="1889.08">(</tspan><tspan x="1918.53" font-weight="bold" stroke-width="1">b</tspan><tspan x="1967.35">)</tspan></text>
<text y="2235" font-family='"Liberation Serif", serif' font-size="85" fill="#000" stroke="#000" stroke-width="0.6"><tspan x="577.17">(</tspan><tspan x="605.33" font-weight="bold" stroke-width="1">c</tspan><tspan x="641.5">)</tspan></text>
<text y="2234" font-family='"Liberation Serif", serif' font-size="85" fill="#000" stroke="#000" stroke-width="0.6"><tspan x="1889.08">(</tspan><tspan x="1918.47" font-weight="bold" stroke-width="1">d</tspan><tspan x="1967.45">)</tspan></text>
</svg></body></html>
